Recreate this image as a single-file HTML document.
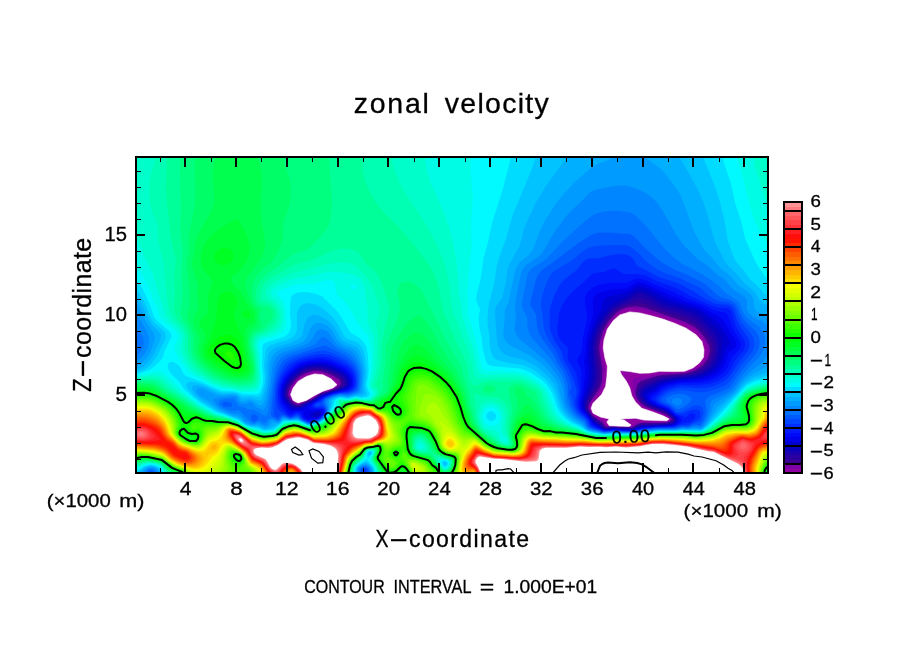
<!DOCTYPE html>
<html lang="en"><head><meta charset="utf-8"><title>zonal velocity</title>
<style>
html,body{margin:0;padding:0;background:#fff;width:904px;height:654px;overflow:hidden}
svg{display:block}
text{font-family:"Liberation Sans","DejaVu Sans",sans-serif;fill:#000;stroke:#000;stroke-width:.3px}
</style></head><body>
<svg width="904" height="654" viewBox="0 0 904 654">
<rect width="904" height="654" fill="#fff"/>
<g id="field"><g fill-rule="evenodd" shape-rendering="geometricPrecision"><rect x="136" y="157" width="632" height="316" fill="#fff"/>
<path fill="#9100a2" d="M138,157 768,157 768,473 136,473 136,157 138,157Z"/>
<path fill="#7d00a8" d="M138,157 768,157 768,473 136,473 136,157 138,157ZM622.4,311 618,313.9 612,319.9 606.9,327 604.3,333 601.9,341 601.1,347 601.7,353 605,369 603.9,381 602.3,387 600,391.4 591.4,403 589.9,407 590,409 592,412.9 594,415.4 603.6,421 605.8,425 608,425.8 612,425.5 620,426.2 626,425.7 630,426.6 632,426.3 638,422.2 640,421.9 658,422 668.2,421 669.7,419 667.8,417 664.6,415 644,407.3 640.6,405 636.8,401 634.6,397 633.4,393 632.6,381 633.2,379 636,377.8 646,376.6 660,373.6 676,373.1 684,372.2 689.2,371 694,369 698,366.5 702,363 705.9,357 706.9,353 707.1,349 705.3,343 701.7,337 695.9,331 692,328.1 680,322.1 648,311.8 640,309.7 630,309.1 626,309.7 622.4,311ZM310.4,373 304.8,375 300,377.8 294.8,383 290.9,389 289.6,393 289.6,395 293,401 296,403.2 298,403.6 300,403.3 305.5,401 314,397 320,392.6 327.8,391 335.5,387 337.5,385 337.9,383 337.1,381 331.9,377 327.9,375 322,373 318,372.3 314,372.3 310.4,373Z"/>
<path fill="#3e0092" d="M138,157 768,157 768,473 136,473 136,157 138,157ZM627.7,307 621.8,309 615.9,313 608,322.1 603,331 599.9,341 599.1,347 599.5,353 602.4,369 601.8,381 600.8,385 598.9,389 589.6,403 588.5,407 588.7,409 592.1,415 594,416.8 602,421.9 604,425 606,426.9 612,426.3 618,427.1 624,426.6 632,427.4 638,423.8 640,423.2 644,422.8 658,423 666,422.4 670,421.4 670.8,421 671.4,419 669.7,417 666,414.4 646,406.7 642.9,405 638.8,401 636.4,397 635.5,393 635.9,389 637.3,385 638.5,383 641.1,381 656,376.2 662,375.1 686,373.2 692,371.6 697.6,369 703,365 707.6,359 709.2,355 709.9,351 709,345 704.4,337 698,329.8 694,326.5 686,322.3 644,307.5 636,306.2 627.7,307ZM312.9,371 306,373 300,376.1 294.7,381 290.3,387 288.6,391 288.1,395 290.2,399 294,403.3 298,404.7 300,404.3 314,397.9 320,393.6 328,391.6 336,388 340.1,385 340.7,383 340,380.6 338,378.6 332,375.1 322,371.5 318,370.8 312.9,371Z"/>
<path fill="#2c00a0" d="M138,157 768,157 768,473 136,473 136,157 138,157ZM634.4,303 628,304.6 622,306.8 617.7,309 614,312.1 608,319.1 602.8,327 600.2,333 597.9,341 597.1,349 599.9,369 600,375 599.4,381 598.3,385 596.4,389 589,401 587.3,407 587.5,409 592,416.2 601,423 604.3,427 606,427.7 614,427.1 620,427.7 626,427.4 632,428.2 638,425.1 642,424 666,423.3 668.5,423 672,421.4 672.6,421 672.8,419 671.1,417 666,413 649.4,407 645.3,405 642.7,403 639.3,399 638.3,397 637.6,393 638.6,389 641.5,385 644,383.2 658,377.6 664,376.5 686,374.4 692.5,373 697.8,371 704,367.1 707.9,363 710.4,359 712.4,353 712.7,347 711.5,343 709.3,339 702,329.9 694,323 684,318.3 660,310.3 646,303.9 640,302.5 634.4,303ZM307.2,371 302,373.3 296,377.8 290,384.9 287.9,389 286.9,393 287.5,397 292,402.9 294.9,405 298,405.6 300,405.2 314,398.8 320,394.5 336.5,389 340.2,387 342.4,385 343.1,383 342.8,381 341.6,379 338,376.2 331.5,373 324,370.5 318,369.4 312,369.7 307.2,371Z"/>
<path fill="#1b00ae" d="M138,157 768,157 768,473 136,473 136,157 138,157ZM635.1,299 618,306.6 614.4,309 612,311.3 606,318.6 600.6,327 598.1,333 595.9,341 595.1,349 597.2,369 597,379 594.8,387 587.3,401 586.1,407 586.4,409 587.5,411 592,417.4 600,423.9 603,427 606,428.4 614,427.6 620,428.2 626,428 632,428.9 638,426 642,425 666,424 672,422.6 674,421 674.1,419 668,413.3 664,411.2 650,406.1 646,403.8 642.8,401 640.2,397 639.6,395 640,391.3 641.3,389 646,385.2 660,379 666,377.9 690,375.1 700,372 705.2,369 709.5,365 713.3,359 715.2,353 715.7,349 715.5,345 714.3,341 712.2,337 705.8,329 696,319.9 690.8,317 680,313.1 662,307.9 650,300.9 644,298.3 640,297.6 635.1,299ZM308.6,369 302,371.6 297.1,375 291.2,381 287.3,387 285.7,393 286.3,397 288.9,401 292,404.4 294,405.8 296,406.4 300,406.2 305.7,403 315.1,399 320.6,395 338.5,389 342.5,387 344.5,385 345.1,383 344,379 340,375.3 334,372.3 326,369.4 320,368.1 314,368 308.6,369Z"/>
<path fill="#0900bc" d="M138,157 768,157 768,473 136,473 136,157 138,157ZM640,293 636,294.1 628.1,299 616,305.3 612,308 606,315.1 599.3,325 596.6,331 594.7,337 593.5,343 593.1,349 594.6,371 594.2,379 592.2,387 585.7,401 584.9,407 586.5,411 592,418.6 601.8,427 605.8,429 614,428.1 620,428.7 626,428.5 632,429.3 642,425.7 668,424.5 673,423 675,421 675.1,419 673.5,417 668,412.3 665.9,411 650.2,405 644.8,401 642.2,397 641.5,395 641.5,393 642.5,391 646,388.1 658,381.9 662,380.4 674,378.2 692,376.2 697.2,375 702.6,373 708,369.9 712,366.2 715.4,361 717.6,355 718.8,345 718.2,341 716.9,337 714.6,333 711.2,329 698,316.3 696,314.8 692,313 678,308.6 664,305.1 660,303.1 650,296.5 644,293.9 640,293ZM310.7,367 304,369 297.4,373 290,380.3 286,387 284.6,393 285.1,397 287.4,401 292,406 294,407 298,407.4 302,406.4 306,403.7 316,399.2 322,395.1 340.6,389 344.6,387 346.4,385 346.9,383 346,378.8 342.6,375 338,372.3 330,368.9 324,367.2 318,366.4 310.7,367Z"/>
<path fill="#0000cf" d="M138,157 768,157 768,473 136,473 136,157 138,157ZM634.6,291 628,295.5 612,303.6 610,305.4 602.9,315 596.7,325 594.1,331 592.4,337 591.3,343 590.9,355 591.8,371 591.4,379 589.6,387 584.1,401 583.6,407 585.3,411 594,422 604,429.1 606,429.5 614,428.6 632,429.7 642,426.5 668,425.1 674,423.3 676.1,421 676.1,419 674.6,417 666,410.1 657.2,407 649,403 646.8,401 644.3,397 643.8,395 644.1,393 646.2,391 652,388.3 660,383.1 664,381.7 678,379 696,377.1 702,375.5 707.7,373 713.2,369 716.6,365 718.7,361 720.6,355 723,343 722.6,339 721.1,335 718.8,331 715.5,327 699.8,313 696.8,311 694,309.9 666,302 662,300.1 652,293.7 644,290.1 640,289.2 638,289.4 634.6,291ZM314.8,365 306,366.6 300,369.3 292,375.8 289.2,379 286,383.9 283.6,391 283.9,397 285.7,401 292,407.6 296,408.4 302,407.6 305.3,405 316,399.8 322,395.8 332,392.1 343,389 346.7,387 348.2,385 348.7,383 348,378.9 346,375.8 342,372.5 334,368.6 328,366.4 322,365.2 314.8,365ZM315.2,413 314,415 316,416.7 318,416.3 319.4,415 320.1,413 318,412.2 315.2,413Z"/>
<path fill="#0000e9" d="M138,157 768,157 768,473 136,473 136,157 138,157ZM635,287 630,290.6 626,292.6 610,296.2 607.8,297 604.9,299 603.4,301 601.5,309 592.8,327 589.9,337 588.9,343 587.9,359 588.8,371 588.3,379 587.3,385 582.5,401 582.3,407 584.1,411 588,415.1 593.5,423 599.2,427 604,429.6 606,429.9 614,429.1 632,430.1 640,427.6 644,426.9 670,425.4 674,424.2 675.8,423 677.4,421 677.4,419 675.8,417 668,410.3 656,405.5 650,402.1 647.3,399 646.7,397 646.8,395 648.5,393 654,390.5 660,385.4 664,383.5 678,380.4 698,378.6 706,376.4 712,373.6 717.5,369 720.4,365 722.2,361 725.9,349 729.7,345 730.4,343 725.5,333 720,324.7 713.5,319 699.3,309 696,307.6 686,305 668,298.6 650,289.2 644,286.7 638,285.9 635,287ZM305.6,365 298,368.6 292,373.6 287.3,379 283.2,387 282.2,393 283.1,399 284,401 288.8,407 292,409.5 302,409.1 304,408.3 307.3,405 318,399.4 322,396.6 332,392.6 345.7,389 348.6,387 349.9,385 350.3,383 350,379.7 347.6,375 342.8,371 334,366.6 326,364 320,363.2 312,363.7 305.6,365ZM316.4,411 311.5,413 309.4,415 310.6,417 316,417.8 318,417.5 322.1,413 320.4,411 316.4,411Z"/>
<path fill="#0009f8" d="M138,157 768,157 768,473 136,473 136,157 138,157ZM635.6,283 628,287.7 626,288.4 610,289.7 600,292.5 595.6,295 593.8,297 593,299 592.6,303 593.4,311 593.3,315 588.9,329 586.3,341 585.9,349 584.1,361 585.4,371 585.2,377 583.2,391 580.8,401 580.5,405 581.6,409 582.7,411 588,416.5 592.1,423 594.2,425 604,430.1 606,430.4 614,429.5 632,430.5 642,427.7 656,426.4 670,426 674,425.1 676,424 679.1,421 679,419 677.2,417 668,409.3 657.2,405 650.7,401 649.3,399 649.2,397 650,395.6 656,391.8 661.2,387 666,384.7 678,381.9 700,380.3 708,378.4 714,375.7 717.9,373 722,368.9 725.3,363 728.6,353 730.3,351 734,348.6 735.5,347 736.3,345 735.5,341 725.1,323 722.2,319 719.5,317 700,306.4 683.6,301 662,291.6 646,283.9 640,282.4 635.6,283ZM306.2,363 300,365.3 296,367.8 290.1,373 286.7,377 284,381.4 281.7,387 281,391 281.2,397 282,400.3 283.4,403 290,411.2 292,411.6 298,410.4 301.4,411 303.7,413 304.8,417 307.7,419 316,418.7 318,418.3 321.8,415 323.3,413 323,411 320,409.7 312,410.1 310,409.7 308.4,409 308,407 312.7,403 324,396.2 332.4,393 344,390.4 348.1,389 350.5,387 351.5,385 351.9,383 351.5,379 349.9,375 346,370.9 342,368.3 332,363.7 326,362 320,361.4 312,362 306.2,363Z"/>
<path fill="#001afc" d="M138,157 768,157 768,473 136,473 136,157 138,157ZM635.5,279 626,283 610,282.8 598,285.3 594,287 590,289.8 587,293 585,297 585,301 587.1,315 587,319 582.7,339 582,350 580,354.8 577.3,359 577.1,361 580.1,367 581.3,373 581.1,391 579,401 578.9,405 580.1,409 581.2,411 588,417.9 592,424.6 595.8,427 604,430.5 606,430.8 614,430 632,430.9 644,428 656,426.9 672,426.3 676.3,425 679.7,423 681.7,421 681.4,419 679.3,417 674,413.7 668,408.3 659.5,405 653.3,401 651.6,399 652.2,397 656,394.3 662,388.9 665.4,387 670,385.5 680,383.2 694,383.1 702,382.4 710,380.6 716,378.1 720.7,375 726,369.8 728,366.7 732,356.8 738,350.7 740.5,347 740.9,345 739.9,341 733.1,329 728,316 726,313 718,311.3 712,309.4 700,303.6 687.2,299 674,291.9 658,286 646,280.2 640,278.7 635.5,279ZM306.5,361 300.4,363 296,365.4 290,370.4 286,374.9 283.4,379 280.8,385 279.6,391 279.7,397 280.4,401 282,404.4 288,412.6 290,414.3 296,412 298,411.7 300,412.3 300.9,413 304,418.3 308,420.3 310,420.5 318.1,419 320.7,417 324.2,413 324,410.5 322,408.9 314,408.6 312,407.3 312.1,405 313.9,403 320,399.8 324,396.8 332,393.7 346,390.9 350,389.2 352.2,387 353.1,385 353.4,381 351.9,375 348,369.9 344,367.1 334,362.2 328,360.2 322,359.3 316,359.6 306.5,361Z"/>
<path fill="#002eff" d="M138,157 768,157 768,473 136,473 136,157 138,157ZM611.1,269 604,272.1 594,273.3 592,274.2 584.9,281 576,288.4 568,296.4 562,305.2 559.1,313 557.3,327 557.5,333 558.6,337 560,339.6 567.1,347 567.9,349 567.6,357 568.4,361 575.1,371 576.6,375 578,382.1 579,391 577,401 577.1,405 578.4,409 581.2,413 588,419.3 590.8,425 593.6,427 604,431 614,430.4 632,431.2 644,428.6 656,427.3 666,427.3 674,426.6 682,423.6 690,421.9 693.9,419 695.4,417 695.4,415 694,413.8 692,413.2 690,413.5 686,417.2 678,415 674.4,413 670.7,409 668,407.2 658.1,403 656.2,401 655.2,399 656.2,397 662,391.6 668,388.2 680,385 698,385.3 710,383.7 716,381.6 720,379.5 724,376.7 728,372.8 730.9,369 736.1,359 744,349.6 745.4,345 744.6,341 738.4,331 735.4,325 730.9,311 730,309.6 728,308.2 718,307.6 710,305.1 692,297 676,287.7 658,281.8 646,275.8 638,274 626,274.2 622,273 616,269.3 614,268.6 611.1,269ZM319,357 304,359.5 295.6,363 288,369.2 284,374.3 281.4,379 279.2,385 278.4,389 278.1,397 278.5,401 280.9,407 288,414.9 290,416 292,415.6 296,413.4 298,413.2 300,414.2 303.2,419 308,421.3 310,421.4 314,420 318,419.5 320,418.3 324,414.2 324.8,413 325,411 324,408.9 322,407.7 316,407.8 313.9,407 313.4,405 315.2,403 320,400.8 326,396.5 334,393.6 348,391.3 352,389.2 353.9,387 354.6,385 354.8,381 354,375.8 351.8,371 348,367.1 340,362.4 332,358.9 326,357.3 319,357Z"/>
<path fill="#0045ff" d="M138,157 768,157 768,473 136,473 136,157 138,157ZM611.4,255 598,258.2 588,258.5 584,260.9 576,270.8 564.9,279 560,284.4 554.4,295 550.3,307 549.8,311 549.6,325 550.4,331 554.6,341 561.2,351 564.1,361 568.9,369 574,380.8 576.7,391 576.7,393 574.8,401 575.2,405 576.5,409 579.3,413 586.5,419 588,421 590,425.9 592,427.2 604,431.4 614,430.8 632,431.5 642,429.4 656,427.8 674,427.3 680,425.5 688,424.7 690,424 698,419.6 700,417.4 700.5,413 699.7,411 698,409.8 694,409.4 690,410.3 684,413.4 680,413.8 676,413.1 670,407.2 660,402.5 658.7,401 658.4,399 659.5,397 666,391.6 676,388.1 682,387.3 698,388.3 706,387.8 716,385.3 724,381.3 728,377.7 731.8,373 739.7,361 747.9,351 749.9,345 749.4,341 748.7,339 740,326.3 736.5,319 733.2,309 730,305.8 726,304.8 718,304.2 713.7,303 705.3,299 694,291.7 680,284 674,281.7 660,277.5 656,275.7 646,270.1 638,266.4 636.6,265 633.2,259 631.3,257 628,255 622,254 611.4,255ZM314.2,355 304,357.2 298,359.2 292,362.2 288.3,365 284,370 280.1,377 278,383 276.8,389 276.3,397 276.8,403 278,408.3 280,411 290,417.2 292,416.7 296,414.7 298,414.5 300,416 302,419 308,421.9 310,422 320,419 324,415.1 325.4,413 325.8,411 324,407.5 322,406.3 316,406.6 314.8,405 316,403.6 320,402.2 326,397 332,394.8 340,393 348,392.3 351.5,391 354.1,389 355.4,387 356.2,383 355.9,377 354,371 351.2,367 346,362.8 336,357.6 328,354.8 322,354 314.2,355ZM363.6,469 363.1,471 364,472.4 366,471.6 366,470.2 364.9,469 363.6,469Z"/>
<path fill="#005bff" d="M138,157 768,157 768,473 367.5,473 367.9,471 367.1,469 366,468 364,467.7 361.8,469 361.4,471 362,473 136,473 136,157 138,157ZM609.8,245 594,246.3 588,247.9 584,250.3 572,260.3 554.1,271 550.5,275 548,279.5 544,289.9 541.5,299 540.8,307 542.7,315 543.5,325 544.7,331 546.3,335 550.8,343 557.4,353 560.4,361 566.3,371 569.6,379 571.5,387 571.4,389 570,390.8 569.8,393 571.2,395 573,405 574.5,409 578,413.8 586,420.2 588,425 589.4,427 594.3,429 604,431.8 614,431.2 632,431.9 642,429.8 656,428.3 674,427.9 682,426 688,426.1 690,425.5 694,423.3 700,421.8 702.2,419 703.6,413 703,409 702,407.2 700,405.7 698,405.2 694,405.5 682.4,411 678,411.9 676,411.3 670,405.6 664.5,403 661.9,401 661.8,399 663.1,397 666,394.6 670,392.6 676,390.9 682,390.2 698,392.2 704,392.3 716,389.3 726,385 730,380.9 743,363 749.8,355 752.6,351 754.1,347 754.6,343 753.2,337 750.5,333 742,322.9 738.9,317 735.9,309 734,305.9 732,304.1 728,302.4 718.9,301 714,299 708,295 702,289.5 698,286.7 680,278.2 665,273 658,270 648.1,263 636,250.9 630,246.5 624,245.1 609.8,245ZM318.3,351 302,355.2 292,358.8 286,362.7 282.6,367 278,376.6 275.4,387 274,413 274.1,415 275.9,417 278,417.8 280,415.6 282,414.5 284,414.9 290,417.7 292,417.5 296,415.8 298,415.8 302,419.6 308,422.6 310,422.7 314,421.1 318,420.4 320.6,419 326,413 326.4,411 326,408.8 324,405.9 322.7,405 321.9,403 324.4,399 327.8,397 334,394.7 340,393.5 346,393.5 350,392.7 353.7,391 355.9,389 356.8,387 357.5,383 357.1,375 355.2,369 352,364.5 346,359.5 332,352.7 324,350.6 318.3,351Z"/>
<path fill="#0072ff" d="M138,157 768,157 768,473 369.2,473 368.5,469 366,466.9 364,466.7 362,467.6 360.6,469 360.2,471 360.7,473 154.5,473 152,470.4 150,470.5 147.7,473 136,473 136,157 138,157ZM597.1,233 592,234.6 580,241.9 541.1,271 538,275 536.1,279 530.6,301 530.5,305 531.2,307 534,311 535.9,315 537.2,327 538.9,333 542.2,339 554,355.3 557.7,363 562.8,371 565.5,377 567.8,385 568,395.3 570.5,405 572.3,409 576.9,415 585,421 588,427.1 591.7,429 604,432.2 614,431.6 632,432.2 644,430 656,428.7 674,428.5 682,426.9 688,427.2 694,424.8 700,424.9 702,423.1 703.3,421 705.7,415 706.3,409 705.2,401 706.1,399 710,396 724,390.5 730,387 736.7,377 747.9,363 754,356.4 757.5,351 759.1,347 759.7,343 759.4,339 758,334.7 755.5,331 748,324.3 744,319.8 741.1,315 737.8,307 736.6,305 734,302.3 730,300 720,296.8 717.3,295 706.4,285 702,282.1 686,274.3 673.4,269 662.5,263 655,257 642.1,245 636,238.2 632,235 628,233.7 622,233.7 612,232.8 602,232.4 597.1,233ZM318.6,347 288.6,357 284,359.9 281.3,363 279,367 276.7,373 273.9,385 270.9,413 271,415 272.5,417 278,419.7 279.4,419 282,416 284,416 290,418.3 296,416.9 298,417 302,420.2 308,423.1 310,423.2 314,421.6 318,420.9 321.3,419 326.4,413 326.8,409 324,403 324.3,401 325.5,399 335.1,395 340,394.1 346,394.3 350,393.7 355.8,391 357.5,389 358.2,387 358.9,381 358.4,373 356,366.3 352,360.8 346,356 328,346.8 324,345.8 318.6,347ZM222,403 222.1,405 224,406.4 226,407.1 230.9,407 232.2,405 231.2,403 228,401.9 224,401.8 222,403ZM251.8,415 250.8,417 252,421 254,421.8 256,421 257.8,419 258.2,417 256,414.9 254,414.5 251.8,415ZM674,394.6 680,393.7 684,394.3 690.3,397 691.8,399 690.7,401 686.7,405 682,408.1 678,409.2 676,408.5 666.1,401 666.1,399 668,397 674,394.6Z"/>
<path fill="#0087ff" d="M138,157 768,157 768,473 370.5,473 369.6,469 368,467 366,465.9 364,465.8 361.3,467 359.6,469 359.6,473 156.5,473 155.3,471 152,468.9 150,468.9 148,470 145.5,473 136,473 136,355.6 138,354.4 141,351 142.9,347 143.7,343 143.2,339 142,336 140,333.1 136,329.9 136,157 138,157ZM606.9,211 598,212.8 592,215.4 582,223.7 562,241.9 548,257.3 543.4,261 532,268.6 529.4,271 528.2,273 527,277 521.9,303 522.8,309 527.2,317 527.4,327 528.9,333 532.7,339 550,357.8 560.1,373 563,379 564.9,385 567.3,403 571.2,411 576,416.4 584,422 586.8,427 589.3,429 604,432.6 614,432 632,432.5 644,430.5 656,429.2 676,428.9 682,427.6 688,428 696,426.1 700,427 702.7,425 706.2,419 708.6,413 710,403 711.4,401 714.1,399 728,392.2 732,389.5 742,375.5 750,366.5 759.5,357 762.9,351 765,345 765.2,339 763.5,333 759.3,327 750,320.3 746,316.5 743.6,313 740,303.6 738,301 725.8,293 717.9,285 710,278.9 694,269.7 682,263.7 673.1,257 664.8,249 646,226.1 636,215.9 632,213.3 628,212.1 614,210.7 606.9,211ZM319.8,339 316.4,343 313.1,345 304,348.8 286,354.6 281.9,357 278.4,361 276,365.9 274.5,371 268,411.8 266,415.6 264,415.6 258,411.9 254,410.1 248,409.2 244,407.3 240,406.5 238,405.2 234,398.9 226,399.1 222,399.7 219.4,401 218.7,403 219.3,405 222,407.6 230,410.8 234,411.2 238,410.3 240,411.1 246,417.5 252.4,423 254,423.2 258,421.2 260,421.1 264,423.3 265.4,423 268,419.3 270,418.2 272,418.4 278,421 280,419.9 282,417.2 284,417 290,418.9 296,417.7 298,417.8 302.3,421 308,423.5 310,423.6 314,422 320,420.4 324,416.8 326.9,413 327.6,409 325.6,403 325.6,401 327,399 332,396.7 337.6,395 340,394.6 348,395 356,392.4 357.9,391 359,389 360.3,377 359.7,371 358,365.8 356,361.9 352,356.6 348,353.5 335.8,347 326,338.1 324,337.1 322,337.1 319.8,339ZM674,398.4 678,397.9 681.2,399 682.2,401 681.8,403 680,405.1 678,405.8 676,405.5 672.7,403 671.8,401 672.8,399 674,398.4Z"/>
<path fill="#009bff" d="M138,157 768,157 768,326.2 762,321.2 753.6,317 748.8,313 746.9,309 747.2,301 746.5,299 744.9,297 734,290.3 730.8,287 726,280.4 716,273.8 708,266 697.6,259 683.5,245 676.4,235 662,209.6 658,203.9 653.7,199 646,193.1 638,189.2 628,185.9 620,185.3 614,185.9 596,189.5 592,190.9 590,192.3 583.9,199 572,209.9 566,216.5 554,232.4 542.4,253 538.1,257 526.4,265 524,267.4 521.8,271 520.6,275 515.5,301 515.2,307 515.9,317 514.6,329 516,334.6 519.3,339 544,358.9 550,365.4 556,373.5 560,380.3 561.9,385 563.8,393 564,399 565.5,405 568.8,411 571.9,415 576,418.5 583,423 587.7,429 594.2,431 604,433 614,432.4 632,432.8 658,429.5 676,429.4 682,428.2 688,428.7 694,427.4 700,428.1 702,427.4 705.7,423 710.2,415 714,404.2 733.9,391 740,382.2 744,377.7 752,370.2 761.8,363 768,355 768,473 371.7,473 370.7,469 369.2,467 366,465 364,465 360.1,467 358.7,469 358.6,473 158.2,473 157.1,471 154.9,469 152,467.9 150,467.9 147.2,469 143.5,473 136,473 136,361.2 140,359.1 145.3,353 148,347 148.9,341 148.7,337 147.4,333 142,322.6 136,315.2 136,157 138,157ZM317,331 315.3,333 312.2,339 308,343 302,346.1 282,352.7 278.5,355 276,357.8 274,361.5 272.3,367 270.1,385 267.8,399 266,405.8 264,409.2 262,409.5 258,408.1 256,406.9 252,402.8 250,402.1 246,403.9 242,403.8 240,403.1 237.9,401 236.2,397 234,396.5 220,397.7 214,398.8 214.1,401 216.5,405 218.3,407 221.3,409 230,412.7 234,413.7 238,414 240,414.8 245.6,421 252,424 254,424.2 258,422.6 264,425.5 266,425.5 268,424.3 270.1,421 272,420.1 278,422 280,421 282,418.2 284,417.8 290,419.4 296,418.5 298,418.7 305.8,423 308,423.9 310,424 314,422.4 319.8,421 322,419.5 326.1,415 328.1,411 328.3,407 327.2,403 327.2,401 328.9,399 334,396.6 340,395.2 348,395.9 350,395.5 357.7,393 359.9,391 361.5,381 361.7,373 360.5,367 358.2,361 356,356.9 352.8,353 350,350.9 342,347.2 338,344.7 334.4,341 328.9,333 326,330.5 322,329.3 320,329.4 317,331ZM201.1,393 202,393.6 203.6,393 202,392 201.1,393Z"/>
<path fill="#00afff" d="M138,157 612.4,157 608,160.2 598,163.8 592,167.2 574,182.8 564,193.6 554.9,205 544,222.3 539.8,231 534.9,245 532.1,251 528.9,255 522,260.3 517.9,265 515.9,269 514.6,273 508.8,301 504.6,311 504.7,319 503.2,333 503.7,337 504.5,339 508,343.4 512.7,347 528,354.4 538,361 544,366 550,372.3 555.1,379 558.4,385 559.7,393 564,407 567.8,413 571.4,417 582,423.9 586.5,429 588,429.8 592,431.1 604,433.4 614,432.7 632,433.1 658,429.9 674,429.9 682,428.9 688,429.3 694,428.4 700,429.1 702,428.5 703.9,427 708.6,421 717.2,407 734.4,393 744,381.1 748,377.5 754,373.4 768,366.3 768,473 372.8,473 371.8,469 370.4,467 368,464.8 366,464 362,464.9 359,467 357.8,469 357.7,473 159.7,473 158.7,471 156.8,469 154,467.5 150,466.9 145.2,469 141.4,473 136,473 136,365.7 139,365 142,363 148.7,355 152.5,347 155.1,337 153.8,333 148,325 142.5,315 139.3,307 138,305.1 136,303.4 136,157 138,157ZM317.4,323 314,324.3 312,326.2 310,329.6 306.9,337 303.8,341 298,343.9 280,349.6 276,351.9 273.1,355 271.1,359 269.5,365 268.5,383 266,395.8 264,402.3 262,404.9 260,405.3 258,404.6 253.4,401 250,399.9 244,401.2 241,401 240,400.6 238.1,397 236,395.5 232,395.1 222,395.8 216,394.8 202,388.3 200,388.1 197.1,389 196.4,391 197,393 200,396.2 210,402 218.3,409 232,414.9 238,416.5 240,417.5 245.7,423 251.5,425 254,425.1 258,424.2 263.3,427 266,427.4 268.1,427 270,425.8 272,422.7 274,422.4 276,423.2 278,423.1 280,422 282,419.3 284,418.6 290,419.9 296,419.2 298,419.4 308,424.3 310,424.4 320.6,421 324,418 327.8,413 329.2,409 329,401 330.9,399 334.9,397 338,396.1 342,395.9 348,396.7 361,393 362,391 363.3,373 362.4,367 360,359 358,354.4 355.7,351 352,348.2 344,344.9 340,342.4 336.9,339 332,330.2 328,326.2 322,323.3 317.4,323ZM636,157 638.4,157 634.4,157 636,157ZM646,157 768,157 768,315.3 758,312.1 756,310.9 754.8,309 753.4,299 751.2,295 748,291.9 738.1,285 730,275.5 720,267.9 712,257.8 705.2,251 701.3,245 693.8,231 684.4,205 680,194.5 677,189 662.9,171 658,166.7 644.7,157 646,157Z"/>
<path fill="#00c3ff" d="M138,157 566.3,157 562.9,163 546,186 536,202.3 524.6,227 521.1,241 519,247 508.9,265 507.3,271 506,282.3 502.4,297 501.5,299 496,306.5 494.8,311 496.8,339 498,345 500,349.7 502.9,353 506.2,355 511.7,357 522,359.2 526,360.7 534,364.9 540,369 548,376.2 554,384.1 556.3,389 561.7,407 565.4,413 568.9,417 573.9,421 582,425.5 585.4,429 588,430.4 592,431.6 604,433.7 614,433.1 634,433.3 658,430.3 674,430.4 682,429.4 688,429.7 694,429.2 700,429.7 702,429.3 706.9,425 719.4,409 736,393.4 742,385.9 746,381.9 754,377 768,371.7 768,473 373.7,473 372.8,469 371.6,467 368,463.7 366,463 362,464 358,467 356.9,469 356.9,473 161,473 160,470.8 158,468.6 154,466.6 150,466.1 146.6,467 144,468.5 139.2,473 136,473 136,369.1 140,368.3 142.7,367 146,364.2 150,359.5 154.2,353 160,340.3 161,337 160.9,335 160,333 152,324.8 149.3,321 141.1,303 138,299.1 136,297.5 136,157 138,157ZM313.1,315 310,316.1 307,319 305.1,323 302.1,335 300.9,337 298.9,339 290.3,343 276,347.2 272.8,349 270,352 268,357.1 266.5,365 266.9,379 265.9,387 263,397 262,398.9 260,401.1 250,398 242,398.7 237.7,395 234,393.8 224,394.2 220,393.8 216,392.5 204,386.8 198,385.3 194,385.5 191.9,387 192.1,389 194.2,393 200,398.7 208,403.4 218,410.4 234,417 238,417.9 240,419.1 244,423 248.3,425 252,425.9 258,425.8 264,428.8 266,428.9 272,427.3 274,425.7 280,423 282,420.5 284,419.5 290,420.3 296,419.7 298,420 308,424.7 310,424.8 314,423.2 320,421.7 324,418.6 328.3,413 330.4,407 330.8,401 332.7,399 337,397 340,396.4 348,397.4 356,395.5 362.4,395 364.2,393 363.6,387 364.9,371 362.7,359 359.9,351 358,348.2 356,346.4 346,342.4 342,339.9 339.6,337 334,326.5 328,320.5 320,315.9 316,314.9 313.1,315ZM369.3,453 370,453.7 370.5,453 370,452.6 369.3,453ZM680,157 768,157 768,305.7 762,302.9 760,300.8 756.9,295 754,291.1 744.4,283 736,273.3 727.5,265 724.6,261 714.5,241 705.1,207 702,199 697.4,189 688.8,173 680.4,159 679.5,157 680,157Z"/>
<path fill="#00dcff" d="M138,157 535.9,157 531.8,169 512.7,215 505.9,239 499.3,257 497,265 493.9,285 488.7,305 487.5,317 487.6,325 489.5,337 489.9,347 491.3,353 493.4,357 496,359.4 500,361.1 509.3,363 520,364.4 524,365.5 530,368.1 536,371.5 546,379.4 550.6,385 554.1,391 560.3,409 562.9,413 568,418.5 572,421.6 580,425.6 584.3,429 588,431 596,433 604,434.1 614,433.5 634,433.6 658,430.8 676,430.8 682,429.9 700,430.3 702,429.9 703.9,429 708.2,425 746,384.2 754,379.7 768,375.6 768,473 374.6,473 373.7,469 372.6,467 368,462.3 366,461.6 362,463.2 357.1,467 356.1,469 356,473 162.2,473 160.1,469 158,467.3 154,465.8 150,465.2 144.3,467 136.6,473 136,473 136,371.7 140.3,371 145,369 148,367 152,363 157.5,355 164.5,341 165.8,337 165,333 163.6,331 154.5,323 152,319.9 149.5,315 145,303 140,294.5 136,289.9 136,157 138,157ZM301.7,305 298.4,309 296.9,313 297.2,327 296.6,331 294.7,335 292.8,337 288,339.8 276,343.3 270,345.6 267.8,347 266.4,349 265.4,353 264,365 265,377 264.8,383 262.1,393 260,396.2 258,397 250,396 244,396.3 242,395.9 238,393.8 234,392.6 222,392.5 216,390.4 202,384 192,381.7 190,381.8 187.2,383 186.4,385 186.8,387 188.1,389 193.2,395 198,399.3 216.2,411 238,419.1 246.3,425 252,426.7 258,427.3 264,429.9 272.4,429 280,423.9 282,421.7 284,420.4 298,420.6 307.7,425 310,425.2 314,423.5 320,422.1 324,419.2 328.8,413 331.6,407 332.6,401 334.6,399 340,397 348,398.2 356,396.3 362.3,397 366,395.5 366.7,395 367.1,393 365.6,389 365.2,385 366.6,375 366.7,369 364.3,353 361.8,347 357.9,343 354,341.1 348,339.2 344.9,337 343.4,335 339.5,327 334,319 328,312.7 322,308.1 316,304.8 310,303.2 306,303.3 301.7,305ZM367.8,453 368,455.3 370,455.4 371.8,453 370,451.4 367.8,453ZM442.7,463 444,465.5 446,465.6 446.5,465 446.9,463 446,462.1 444,461.6 442.7,463ZM704,157 768,157 768,296.4 764,293.6 758.6,287 749.7,279 744,270.9 736,261.6 734,258.3 727.9,241 724.2,219 718.5,197 714.4,185 703.8,159 703.3,157 704,157Z"/>
<path fill="#00faff" d="M138,157 511.1,157 502.3,191 492.1,223 487.9,243 483.8,257 480.7,279 476.1,297 476.3,301 479.9,309 480,311 478.9,315 478.6,319 479.4,327 481.7,339 482.8,349 485.9,361 488,364.5 492,366 520,368.6 526,370.5 532,373.4 542,380.2 546.9,385 552,393 557,407 559,411 561.9,415 565.9,419 571.5,423 580,426.9 588,431.6 593.3,433 604,434.5 612,433.9 634,433.9 658,431.2 676,431.2 682,430.4 700,430.9 702,430.5 707.4,427 718,417 746,386.2 750,383.7 756,381.2 768,378.4 768,473 375.5,473 373.6,467 368.4,461 368,459.3 366,459.6 358.2,465 356.2,467 355.4,469 355.3,473 163.3,473 161.2,469 159.3,467 154,465 150,464.5 144,466.1 136,471.2 136,373.9 142,372.7 151,369 153.9,367 160.1,361 163,357 164.5,351 171.4,337 171.4,335 169,331 157.2,321 154.2,317 150.1,305 142.7,289 140,284.4 136,280.4 136,157 138,157ZM296,293 292.8,295 291.3,297 290.7,299 289.9,313 291.1,325 290.5,329 288.7,333 286.8,335 283.3,337 266,342.4 264,343.4 262.8,345 262.1,349 262.4,357 261.9,365 263.1,375 263.1,381 262.1,387 260.6,391 260,392.3 258,393.9 256,394.3 244,394.1 234,391.3 224,391.1 220,390.1 212,386.8 202,381.9 186,375.9 184,374.4 180,367.1 178.2,365 174,362.2 172,361.7 170,362.1 168.8,363 167.9,365 167.8,367 169.2,371 172,374.7 178.8,381 183.9,389 195.1,399 200.4,403 216,412.2 224,414.6 234,418.9 238,419.9 245,425 250,427.1 258,428.4 264,431 272,430.2 274,429.5 284,421.3 298,421.1 308,425.5 310,425.6 314,423.9 320,422.5 324,419.7 329.3,413 332.9,407 334.4,401 336.4,399 340,397.7 348,398.9 356,397.1 362,398 368.3,397 369.8,395 369.9,393 367.7,389 366.8,385 368.8,371 367.8,355 366.4,347 364,342.4 360,338.2 352,333.6 350,331.9 341.2,317 337,311 322,296.3 316,293.9 308,292.3 302,292.1 296,293ZM487.6,413 486.5,415 486.3,417 488,419.8 490,420.8 492,420.9 494,420.3 495.3,419 496.1,417 495.9,415 494,412.3 492,411.2 490,411.2 487.6,413ZM369,451 367.1,453 366.9,455 368,458.8 372.6,453 371.6,451 369,451ZM442.2,461 441.6,463 442.5,465 444,466.7 446,466.9 447.8,465 448,462.8 446,460.9 444,460.6 442.2,461ZM724,157 768,157 768,279.3 764,274.9 756,263.1 745.2,239 741.6,223 735.1,203 730.8,183 724,163 722.7,157 724,157Z"/>
<path fill="#00fce5" d="M138,157 470.6,157 471.1,177 472.9,199 471,223 471.6,247 469.6,263 467.3,293 468.2,307 468,313 468.8,317 475.9,341 481.1,365 483,369 486,371 488,371.3 500,370.7 518,371.7 524,373.3 530,375.8 540,382.2 545.1,387 548.9,393 556.2,411 558.9,415 563,419 568.6,423 580,427.9 588,432.3 598,434.3 604,434.8 612,434.3 634,434.2 660,431.4 676,431.5 682,430.8 700,431.4 702.3,431 708.6,427 720.3,417 728,408.5 737.2,397 746,387.9 750,385.6 756,383.2 768,380.4 768,473 376.4,473 374.5,467 370,461 369.9,459 373.2,453 372.8,451 370,450.4 367.8,451 366.4,453 364.8,459 357.2,465 355.4,467 354.7,469 354.6,473 164.4,473 162,468.5 160,466.5 156,464.8 150,463.8 144,465 136,469.4 136,375.7 141,375 156,371.2 160,371.1 162,371.8 174,382.3 182,390.5 200.9,405 215.3,413 226,416 232.7,419 238,420.7 243.9,425 248,426.9 258,429.3 264,431.7 272,431.1 274,430.6 284,422.2 286,421.8 296,421.3 298,421.6 308,425.8 310,425.9 314,424.2 320,422.9 324,420.3 336.1,405 336.1,401 338,399.1 342,398.5 348,399.4 356,397.7 362,398.9 368,398.6 370.7,397 372.7,393 369.8,389 368.5,385 370.7,373 371.1,365 370.6,349 368,336.6 366,333 358.8,325 351.1,311 346,303 337.6,295 335.7,291 335.2,285 334.6,283 332.6,281 330,280.1 326,280.4 314,283.6 300,284.2 294,285 280,290.5 278,292.1 277.5,293 278,295 283,301 285.3,307 286.4,319 286.1,325 284.7,329 281.1,333 274,336.6 262,339.9 260.5,341 259.4,343 259.1,347 260.4,357 260.3,365 261.5,379 260,387 257.3,391 254,391.9 242,392.1 234,389.9 222,388.8 210,383.9 192.7,375 188,371.7 179.1,359 175,351 174.7,347 178,338 178,334.8 175.3,331 165.4,323 159.9,317 157,307 152,297 146,281.4 140.8,273 136,268.5 136,157 138,157ZM351.4,285 350.6,287 351.4,289 354,289.5 356,287 355.1,285 354,284.4 351.4,285ZM486.4,409 484,412.1 483,415 482.8,417 484,421 486,423.7 488,425.1 492,425.9 496,425.3 498,423.5 499.8,419 500,416.6 499,413 496,409.2 492,407.2 490,407.2 486.4,409ZM440.5,461 440.7,463 441.6,465 444,467.7 446,467.8 448,466.2 449,463 447.7,461 444,459.8 442,460 440.5,461ZM738,157 768,157 768,243.7 764,239.7 760.9,235 753.1,217 748.5,201 743.3,179 738.2,161 737.4,157 738,157Z"/>
<path fill="#00fecb" d="M138,157 424.9,157 426.7,169 429.7,181 441.7,207 448.3,225 451.3,235 456.4,261 459.2,295 461.6,309 462.1,315 467.3,333 472.6,347 477.7,369 479.9,373 482,374.2 486,375 500,374.2 516,374.6 522,375.8 528,378 539.6,385 543.6,389 546.8,395 553.3,411 555.7,415 559.7,419 565.6,423 569.5,425 578,428.1 588,433 604,435.2 634,434.6 660,431.8 676,431.9 682,431.3 700,431.8 703.6,431 709.9,427 724.5,415 730,408.7 738.5,397 746,389.5 750,387.2 758,384.3 768,382 768,473 377.3,473 375.3,467 371.1,461 370.9,459 373.8,453 373.8,451 372,450.1 370,450 367.1,451 365.8,453 364.7,457 363.4,459 356.2,465 354.6,467 354,469 353.8,473 165.5,473 162,467.1 160,465.6 154,463.6 150,463 144,464 136,467.9 136,377.4 152,374.9 156,374.9 160,375.9 164,378.3 179.3,391 198,404.7 201.8,407 216,414.2 226,416.8 238,421.3 243.1,425 248,427.4 256,429.5 264,432.4 274,431.4 282,424.6 284,423.1 286,422.5 296,421.7 298,422.1 308,426.2 310,426.3 316,424 320,423.4 324,420.9 332,411.1 338,405.2 337.5,401 340,399.3 348,399.9 356,398.3 362,399.4 370,399.2 374,395 374.9,393 374.3,391 372,389 370.7,387 370.3,385 370.9,381 373.1,373 373.9,367 374.1,355 373.6,339 372.5,333 368.8,325 367.6,321 367.6,309 364.5,287 361.7,281 360,278.8 356,275.8 350,273.7 340,272.3 334,271.7 328,271.9 310,276 296,278.3 290,280.2 276,285.9 272,289 270.7,293 271.1,295 272.4,297 278.8,303 282,309 282.9,315 282.7,321 280.6,327 276.9,331 270,334.7 260,337.9 257.3,341 256.6,345 258.6,357 259.9,377 258.5,385 256,388.6 254,389.4 242,390.4 232,388.1 222,386.7 214,383.7 208.6,381 196,373.6 190.3,369 184.8,361 181.2,353 180.5,347 182,337 181.1,333 178.1,329 169.1,321 165,315 162,303.5 152.4,273 144.5,257 140,246 138,242.2 136,239.7 136,157 138,157ZM486.2,405 484,406.6 482.2,409 480.7,413 480.4,417 482.1,423 484,426.4 486,428.1 496,431 499,433 500.6,439 501.7,441 504,442.6 506.1,443 507.3,441 506.5,439 501.8,433 501.2,431 503,417 501.6,411 498.4,407 494,404.5 490,403.9 486.2,405ZM417.8,445 417.4,447 419,449 422.3,449 423.6,447 422,444.2 420,443.3 417.8,445ZM441.3,459 440,459.5 439.2,461 442,466.7 444,468.5 446,468.7 448,467.5 449.6,465 449.9,463 448.9,461 446,459.5 441.3,459ZM756,157 768,157 768,204.1 765.2,199 755.2,167 754.1,157 756,157Z"/>
<path fill="#00ffb2" d="M156,157 391.2,157 393.9,169 399.6,183 406.3,195 420,215 430,231.4 435.9,243 443.4,261 445.9,269 449.6,287 451.8,307 453,313 458,323.3 462.2,337 467.7,349 472.3,365 473.9,375 476,377.8 480,378.8 498,377.7 516,377.6 522,378.7 526,380.1 536,385.5 540.6,389 543,393 547.4,405 551.2,413 553.9,417 558.7,421 566.3,425 580,429.8 588,433.4 596.8,435 604,435.5 634,434.9 660,432.1 676,432.2 682,431.7 700,432.2 704,431.3 711.2,427 726.8,415 730.4,411 739.7,397 746,390.8 748,389.6 756,386.5 768,383.4 768,473 378.2,473 376.1,467 372.1,461 371.8,459 374.4,453 374.6,451 372,449.7 370,449.6 366.4,451 364,456.7 362.3,459 355.3,465 353.9,467 353.4,469 353.1,473 166.8,473 162,466.1 160,464.7 154,463 150,462.4 146,462.7 142,463.8 136,466.5 136,378.9 150,377.3 154,377.5 158,378.6 162,380.8 169.5,387 196,405 206.8,411 215.6,415 226,417.5 238,421.9 244,426 248,427.9 264,433 274,431.9 284,423.8 286,423.1 296,422.2 308,426.5 310,426.7 316,424.3 320,423.8 324,421.5 332,412 338.1,407 339,405 339,401 340,400.3 348,400.4 356,398.8 362,399.9 370,400 371.8,399 375.7,395 376.7,393 376.6,391 372.9,387 372.3,385 375.9,373 377.2,365 378,335 376.3,323 377.2,319 379.5,313 379.4,307 373.5,289 370.5,283 365.1,275 356,265.9 352,263.8 346,262.7 338,262.5 328,263.8 294,272.4 274,281.8 270,284.5 267.8,287 265.9,291 265.6,293 266,295.8 268.3,299 274,303.1 277.6,307 279.7,313 279.7,319 277.4,325 274,328.8 268,332.6 258,336.6 256,338.7 255,341 254.7,345 256.9,357 258.3,375 258,379 256.9,383 255.9,385 254,386.7 244,388.3 240,388.4 222,384.6 214,381.6 209,379 199.7,373 192.7,367 188.5,361 185.2,353 184.4,347 184.9,337 184,332.7 181.9,329 174.3,321 171.4,317 169.5,313 168.5,309 165.1,281 163.6,263 158.3,241 157.3,225 156.2,221 151.8,211 149.5,199 149.2,189 149.8,181 150.9,175 154.4,163 154.6,157 156,157ZM486.3,401 484,401.7 482,403.1 479.5,407 478.4,411 478,415 478.5,419 481.8,427 484,429.7 494,434.4 499.2,441 501.8,443 506,444.2 508,443.9 509.1,443 509,441 505.4,431 504.9,425 505.8,415 504.2,409 501.2,405 496,401.7 492,400.7 486.3,401ZM417.7,441 415.9,445 415.7,447 416.6,449 420,450.6 422,450.7 424,450.4 426,449.3 426.2,447 424,442.9 422,441.1 420,440.3 417.7,441ZM437.9,459 438,461 439,463 442,467.6 444,469.3 446,469.5 448,468.4 449.3,467 450.3,465 450.6,463 450,461 448,459.6 442,458.1 440,458.1 437.9,459Z"/>
<path fill="#00ff98" d="M168,157 361.6,157 363.1,173 364.4,179 369.2,191 374.7,201 382.2,211 398.5,227 416,247.5 430,266.6 433.7,273 439.2,289 441.1,303 443.1,311 454,337 464,357.7 467.2,367 469.1,379 472,384.2 474,385.4 476,385.5 484,382.2 490,381.3 506,381.6 516,380.7 520,381 524,382.3 536,388.4 539.1,391 540.2,393 543.1,403 547.8,413 550.4,417 554.8,421 562.4,425 578,429.8 588,433.9 596,435.3 604,435.9 634,435.2 660,432.5 676,432.6 684,432.1 700,432.6 704,431.8 709.7,429 729.1,415 732.6,411 736.7,403 740.9,397 746,392 750,390 756,387.8 768,384.6 768,473 379.1,473 376.9,467 372.9,461 372.5,459 372.9,457 375,453 375.3,451 374,449.6 372,449.2 368,449.6 365.8,451 364,455.2 362,458.3 354,465.5 352.8,469 352.4,473 168.2,473 162,465.2 156.9,463 150,461.7 146,461.9 142,462.8 136,465.2 136,380.3 150,379.4 156,380.7 160.3,383 168,389.3 176,393.3 196.7,407 206,411.9 214,415.3 226,418.1 236,421.6 248,428.4 262,433.1 266,433.5 274,432.5 284,424.5 286,423.7 292,422.8 296,422.6 298,423 308,426.9 310,427.1 316,424.6 322,423.5 324,422.1 330,414.7 338.9,407 339.9,405 340,402.8 341.7,401 348,400.8 356,399.3 370,400.9 372,399.9 377.4,395 378.5,393 378.8,391 378.2,389 375.7,385 375.9,383 379,375 380.4,369 381.1,363 381.6,345 385.1,327 388.8,313 389,309 388.1,303 382.6,285 380.1,279 377.7,275 374.5,271 365.4,263 360,254 356,250.8 352,249.4 348,248.8 342,248.6 334,250.3 328,252.6 312,260.1 298,263.6 290,266.7 270,278.4 266,281.8 263.5,285 261,291 260.5,295 260.8,299 262,301.1 270,304.1 273.7,307 276.2,311 276.7,317 276,319.8 274.4,323 270.8,327 265.4,331 256.8,335 254.7,337 253.6,339 252.9,345 255.6,359 256.8,371 256.1,379 254,383.3 252,384.7 250,385.3 242,386.3 226,383.4 214,379.3 203.9,373 196,366.2 191,359 188.2,351 187.9,339 186.9,333 184,327.1 177.4,319 175.4,315 174.3,311 174.1,307 175.1,291 174.3,275 176,261 171,237 166.4,197 166.1,187 167.2,157 168,157ZM475.8,393 474.4,395 475.2,401 476.1,417 477.8,423 481.2,429 484,431.7 492,436.6 499.5,443 504.4,445 509.2,445 510.6,443 508.2,435 507.5,427 508.7,413 508.2,409 506,404 504,401.3 500,398.4 496,397.3 482,396.4 475.8,393ZM416.5,439 415.5,441 414.5,447 416,449.9 418,451.2 422,451.9 426,452 428.7,451 429,449 428,445.9 424,440.3 422,438.7 420,437.9 418,438 416.5,439ZM435.8,457 436.9,461 442.5,469 444,470 446,470.2 448,469.3 450,467.2 451.3,463 450.8,461 450,460.1 448,458.9 444,457.7 438,456.7 435.8,457Z"/>
<path fill="#00ff7f" d="M182,157 329,157 332,203 330.5,219 329.7,223 327.9,227 321.9,235 310,247.2 306,249.7 296,253.3 290,256.6 277,267 266,274.7 260.2,281 257.4,287 256.5,291 256.3,297 256.9,301 257.8,303 260,305 266,305.9 270,307.8 272.6,311 273.4,315 272,319.6 265.5,327 263.4,329 256,332.9 254,334.6 251.5,339 251.2,345 254.8,363 255.5,371 253.9,379 252,381.6 250,382.8 242,383.8 236,383.4 224,380.7 214,376.7 205.4,371 198.6,365 194.4,359 192,353 191.2,349 191.1,339 189.9,333 187.4,327 182.4,319 180.5,313 180.7,309 182.2,301 182.8,291 181.6,275 182.8,251 181,239 180.4,231 180.7,205 179.9,167 180.1,157 182,157ZM402,282.7 406,281.5 412,282.5 418,286.6 422,291.6 437.1,321 444.2,337 460.4,365 464.3,379 469.2,391 470.4,403 472.6,409 474.5,419 475.9,423 479.7,429 482,431.7 497.3,443 501.6,445 506,446 510,445.8 511.2,445 511.8,443 509.9,437 509.4,433 509.7,425 511.9,413 512.2,409 511.6,405 509.3,397 508.3,389 509.3,387 512,385.2 516,383.9 520,384 523.1,385 536,392.7 538.2,401 545.4,415 548.3,419 553.9,423 560,425.7 578,430.6 588,434.3 596,435.7 604,436.2 634,435.5 660,432.8 684,432.5 698,433.1 704,432.3 711,429 726.6,419 731.7,415 734.8,411 737,405 740.7,399 743.7,395 746,393.2 754,389.7 768,385.8 768,473 380.1,473 377.7,467 373.7,461 373.2,459 373.5,457 376.1,451 374.4,449 372,448.8 368,449.2 366,450.4 362,457.3 354,464.4 352.1,469 351.8,473 170.2,473 168,471.3 162,464.3 158,462.7 150,461.1 146,461.1 142,461.8 136,464.1 136,381.7 148,381.4 152,381.9 155.4,383 160,385.7 166.4,391 174,394.3 194,407 206,413.1 216,416.7 226,418.8 236,422.1 244,426.8 250,429.7 264,434 274.2,433 276,432 282,426.4 286,424.2 288,423.8 296,423 308,427.3 310,427.5 316,425 322,424 325.6,421 330,415.3 338,408.8 339.7,407 341.2,403 342,402.2 356,399.8 368,401.6 372,400.9 379.3,395 382.8,389 382.6,381 385.1,365 385.9,347 388,340.9 395.7,323 399.1,313 400,305 397.7,293 397.5,289 399.3,285 402,282.7ZM416.1,437 414.7,439 414,441 413.4,447 413.9,449 415.7,451 420,452.7 432,453.9 435.8,461 442,469.4 444,470.7 446,470.9 449.4,469 450.9,467 452,463 451.6,461 450,459.1 438,455.3 432.6,453 429.4,445 425.1,439 422,436.6 420,436.1 418,436.2 416.1,437ZM488,385 492,385.5 495.2,387 496.5,389 495.3,391 490,393.2 486,392.9 484,391.6 482.8,389 483.7,387 486,385.5 488,385Z"/>
<path fill="#00ff66" d="M196,157 282.1,157 289.8,179 290.7,189 290.2,201 288.8,207 283.3,223 282.9,237 281.1,245 277.5,253 274,259 270.3,263 264,268 259.1,273 254.8,279 252.4,285 252.1,293 253.6,301 255.7,305 260.4,309 261.2,311 260,312.3 259.3,315 259.7,319 261.2,323 261.2,325 260.2,327 252.2,333 250,337.2 249.4,341 249.5,345 253.9,365 254.2,369 253.8,373 252,377.7 250,379.7 248,380.5 240,381.5 234,380.9 225.9,379 216,375 209.6,371 202,364.6 197.7,359 195.3,353 194.6,349 194.6,337 193.5,333 188.5,321 187.2,315 187.3,313 189.6,307 190.1,303 189.3,285 186.9,265 187.4,259 188.9,251 188.6,241 189,235 193.7,211 195,201 195.3,191 194.7,165 195.4,157 196,157ZM416,316.2 418,315.6 420,315.8 422,317 426,321.5 432,330.7 443.3,351 456,369.5 465.6,391 467.1,397 468,405 470.8,411 474,423 482,433.3 492,441 499.2,445 508,446.9 510,446.8 512.6,445 512.8,443 510.9,437 510.7,433 512.2,423 516.7,409 517.5,403 517.1,399 515.3,395 514.5,391 515.2,389 518,387.3 520,387.5 522,388.5 524.5,391 526.6,395 532,399.8 534,402.6 544.3,419 548,422.2 558,426.8 578,431.3 588,434.7 596,436.1 604,436.6 636,435.7 660,433.2 684,432.9 698,433.5 704,432.8 712,429.2 722,422.8 729.4,419 734.8,415 736.2,413 739.5,403 743.2,397 746,394.3 750,392.1 768,386.9 768,473 381.1,473 378.5,467 374,459.7 374.1,457 376.8,451 376.1,449 374,448.5 368,448.8 364.8,451 362,456.4 354,463.4 352.9,465 351.6,469 351.1,473 172.7,473 168,470 163.7,465 160,462.6 148,460.3 142,460.9 136,462.9 136,383.1 148,383.4 154,384.8 158,386.9 166.2,393 174,396.2 194,408.7 206,414.4 216,417.5 228,419.9 236,422.6 250,430.2 262,434.1 266,434.5 274,433.5 276,432.6 279.4,429 284,425.7 292,423.6 296,423.4 308,427.7 310,427.9 316,425.4 320,425 324,423.4 330,415.8 338.6,409 342.5,403 344,402.3 356,400.3 370,402.3 373.6,401 386,392.4 387,391 387.5,389 388.9,371 391.4,351 392.4,347 398,336.3 406,324.6 410,320.3 416,316.2ZM417,435 414.1,437 412.9,441 412.5,447 412.9,449 414.2,451 418,453.1 430,455.5 432,457.3 442,470.2 444,471.6 446,471.8 450,469.3 451.6,467 452.7,463 452.4,461 451,459 439.8,455 436.2,453 434.1,451 430,443 425.3,437 422,434.9 420,434.6 417,435Z"/>
<path fill="#00ff4f" d="M216,157.9 216.2,157 257.8,157 261.8,175 262.2,185 260.7,199 260.7,205 261.5,221 264.7,239 264.9,247 263.6,253 261.8,257 246.4,279 245,283 245.6,287 250.1,301 256.9,311 257.4,321 256.4,325 250,331 248.9,333 247.8,337 248.1,347 250.6,359 252.4,365 252.5,371 250.9,375 249,377 246,378.2 242,378.8 234,378.7 228,377.3 222,375 211.4,369 206,364.7 202.5,361 200,357 198.3,351 198.3,347 199.4,341 199.5,337 194.1,325 193.3,321 194,316.5 197.3,311 198.5,307 196.9,295 197.9,285 192.4,267 192,261 194,253 195,243 196.1,239 200,230.7 211.3,211 213.8,205 214.5,199 213,181 212.9,173 214,165 216,157.9ZM416,332.8 418,332.8 422,334.2 426,337.5 430,342.7 437.8,355 444.1,363 452.9,373 462.8,391 464.7,397 466.2,405 469.3,413 471.4,421 473.6,425 482,434.7 490,441.1 496.8,445 506,447.4 512,447.1 513.7,445 513.8,443 511.6,435 514.2,423 516,418.7 522,409.1 524,406.3 526,405 528,404.9 530,405.9 538,415.3 541.8,421 543.9,423 546,424.1 558,428.3 578,432 587.6,435 596,436.5 604,436.9 634,436.1 660,433.5 684,433.3 700,433.8 704.9,433 710.1,431 722,423.7 736,417.5 738.2,415 739.6,407 741,403 744,397.6 746,395.5 752,392.3 768,388 768,473 382.2,473 379.4,467 375.2,461 374.5,459 374.7,457 377.5,451 377,449 376,448.2 374,448.1 368,448.6 366,449.5 364.4,451 362,455.6 354,462.5 352.2,465 350.5,473 175.2,473 170,470.3 162.3,463 160,461.9 148,459.7 142,460.1 136,461.9 136,384.6 148,385.5 154,387.1 166,394.6 174,398.2 192,409.5 208,416.2 218,418.8 228,420.4 236,423 250,430.6 262,434.7 266,435 274,434 276.2,433 280.1,429 284,426.2 292,424 296,423.8 310,428.4 312,427.9 316,425.8 320,425.6 324,424 326,422 329.4,417 338,410.4 340,408.4 342,404.9 344,403 356,400.7 368,402.7 372,402.6 375.8,401 388,393.2 389.9,389 391.9,381 394.1,367 400,348.3 404,341.7 408,337.1 412,334.1 416,332.8ZM413.9,435 412.5,437 411.9,439 411.6,447 412,449.2 414,452 418,453.9 428,456 430,456.9 438,465.7 442,471.1 444,472.5 446,472.7 448,472 450,470.3 452,467.6 453,465 453.2,461 452.1,459 450,457.7 441.6,455 438,453 434.4,449 432,443.9 428.9,439 425.1,435 422,433.5 420,433.2 416,433.8 413.9,435Z"/>
<path fill="#00ff38" d="M234,220.1 236,219.5 238,220.3 240,222.5 244,229.4 248,239 249.4,245 249.7,249 248.8,255 245.5,263 241,269 232,277 231,279 230.9,281 233.4,285 241,293 246.5,303 253.7,311 254.5,313 254.9,317 254,321.4 252,323.4 249,325 246.7,327 245.8,329 245.2,333 246.5,349 248.4,359 250.9,367 250.4,371 248,374.3 246,375.4 238,376.7 230,375.4 220.2,371 210,364.4 204.6,359 202.4,355 201.6,349 202.6,345 205,339 205.3,335 203.7,331 199.7,325 199.3,323 200,320.7 206,315.8 207.6,313 208.3,309 208,297 208.8,293 212.3,283 212.2,281 211.3,279 204.3,271 201.2,265 200.6,259 203.1,247 206.6,241 214,233.3 222,227.3 234,220.1ZM416,344.5 420,345 424,348 439.9,365 448,372.6 452,377.5 458,386.7 461.1,393 469.8,421 471.8,425 473.5,427 482,436 490,442.4 498,446.2 506,447.9 512,447.9 514,446.7 514.7,443 512.5,435 516.3,423 518,420 522,415.8 526,413.5 528,413.2 530,413.8 534,416.6 539.4,423 544,426 550,427.1 556,429.3 576,432.2 586.1,435 596,436.9 604,437.2 636,436.3 660,433.8 684,433.7 696,434.3 704,433.6 711.6,431 724,423.8 736,420.4 739.2,419 740.9,417 741.5,415 741.8,405 744,399.9 745.9,397 752,393.3 768,389.2 768,473 448,473 450,471.3 453,467 453.9,463 453.9,461 453.2,459 450,457.1 444,455.3 439.5,453 435.7,449 432,441.4 428,435.7 424,432.8 420,431.9 414,433.1 412,434.8 411,437 410.7,447 411.8,451 413.8,453 416,454.1 428,457.1 430,458 434.1,463 438,466.6 442,472.2 443.2,473 383.4,473 380.3,467 375.1,459 375.3,457 378.1,451 378,449 376,447.4 368,448.3 366,449 364,450.9 361.8,455 352.7,463 351,467 349.8,473 177.6,473 170,469.2 163.3,463 160,461.3 148,459 142,459.2 136,460.9 136,386.3 148,387.5 154,389.3 164,395.2 174,400.2 188,409.9 198,413.2 206,416.7 218,419.6 228,420.9 236,423.4 250,431.1 261.4,435 266,435.4 272,434.7 276,433.6 280.7,429 284,426.8 292,424.4 296,424.2 310,428.8 312,428.5 316,426.3 322,425.6 325.9,423 330,416.9 338,411.2 340,409.2 342.7,405 345.9,403 356,401.2 370,403.5 373.9,403 378,401.5 382,398.4 388,395.2 390,393 394.4,383 398,368.1 404,356.1 410,348.1 414,345.2 416,344.5Z"/>
<path fill="#00ff22" d="M220,248.8 222,248.1 226,247.8 229.6,249 232,251 233.2,253 233.9,257 232.1,261 230,262.9 226,264.7 222,265 218,263.8 214.9,261 214,259 214.4,255 217,251 220,248.8ZM224,292.3 228,291.6 232,293 235.8,297 237.1,301 237.1,305 234.2,311 233.8,315 236.7,325 242.5,339 246,359 248.4,367 248.3,369 247.1,371 244.2,373 242,373.7 238,374.3 234,373.9 226,370.7 210,360.4 206.8,357 205.1,353 204.9,351 205.7,347 210.8,337 216.2,319 217.3,305 218.5,299 220.6,295 224,292.3ZM244,310.8 247.1,311 250,313 250.7,315 250,317.4 248,317.8 246,317.4 242.6,315 242.4,313 244,310.8ZM412,357 414,356 418,355.3 424,357.5 434,364.7 446,374.9 454,384.7 458.9,393 460.6,397 468.2,421 470,424.7 471.8,427 481.7,437 489.2,443 498,447 508,448.7 512,448.7 514.9,447 515.5,443 513.7,437 514,433.6 518.6,423 522,419.6 526,418.2 530,418.9 540,426.6 544,428.3 550,428.7 556,430.5 576,432.9 596,437.3 604,437.5 636,436.7 660,434.2 684,434.1 696,434.8 706,433.6 713,431 724,424.7 732,422.8 738,422.3 742,421 744,419.5 744.7,417 743.2,407 744,403 746,398.9 747.8,397 752,394.4 768,390.4 767.8,473 449.4,473 452,469.9 453.6,467 454.5,463 454,458.8 451.7,457 444.7,455 440,452.4 436.8,449 434,442.6 428,433.7 424,431.4 420,430.6 416,430.9 412,432.2 410,434.8 409.3,439 409.8,447 410.7,451 412.2,453 414,454.2 428,458 429.8,459 432.9,463 437.4,467 441.7,473 405.2,473 404,470.9 402,470.7 400.5,473 384.6,473 381.4,467 375.8,459 375.8,457 378.9,451 378.8,449 378,447.3 376,446.8 368,448 366,448.7 364,450.4 361.1,455 356,458.8 352,462.8 350,468.9 349.3,473 180,473 170,468.2 164,462.8 160,460.7 148,458.4 142,458.5 136,460 136,388.4 148,389.5 154,391.3 172.3,401 177.7,405 184,410.7 188,413 198,414.6 206,418 218,420.4 230,421.9 238,424.7 250,431.5 254,433.2 262,435.6 268,435.7 274,434.9 276,434.1 281.3,429 284,427.3 292,424.8 296,424.6 310,429.2 312,429 316,426.7 322,426.2 326,423.7 330,417.6 339.1,411 344,404.6 347.8,403 356,401.6 370,404 378,404 382,400.1 388,396.8 391.8,393 397.2,383 399.9,373 402,368 406,362.2 412,357Z"/>
<path fill="#00ff0b" d="M226,334.7 230,335.1 234,336.8 238,340.4 240,344.3 242.7,355 244.8,367 244,369 240.8,371 236,371.5 229.2,369 212,357.4 209.7,355 208.8,353 208.5,351 209.8,347 214,341.5 220,336.5 226,334.7ZM414,363 420,362.7 426,364.6 434,369 444,376.7 452,385.7 458,395.5 466.6,421 468.5,425 470.1,427 480.5,437 488,443.2 496,447.1 508,449.2 513.9,449 516,447 516.4,443 514.7,437 514.7,435 520,424.3 522,422.5 526,421.5 530,422.7 538,427.6 544,429.9 550,430 556,431.6 576,433.5 596,437.7 636,437 660,434.5 684,434.5 696,435.2 706,434.1 712,432.2 724,425.5 732,423.9 738,423.9 744,423.2 746,422.2 746.9,421 747.4,417 745.2,409 745.1,405 747.8,399 749.9,397 753.4,395 760,393.1 768,391.7 768,467.9 766,470.4 765.6,473 450.6,473 453.3,469 454.8,465 455.2,461 455,459 454,457.6 452,456.4 444,454.1 440,451.5 437.9,449 434.3,441 429.2,433 426,430.8 420,429.2 412,429.7 410,430.6 408.7,433 408,439 408.9,449 409.6,451 410.9,453 413.5,455 428,459 430,460.4 433.6,465 436.4,467 440.6,473 408,473 404.9,469 404,468.3 402,468.1 397,473 386.1,473 382.6,467 376.8,459 376.7,457 379.7,451 379.1,447 378,446.4 368,447.7 364.9,449 363,451 360.4,455 356,458 352,461.9 350.6,465 348.8,473 182.2,473 172,468.6 168,465.9 162.5,461 160,460.1 148,457.8 142,457.7 136,459 136,390.9 148,391.4 156,394.1 172.4,403 177.2,407 184,415.2 186,416.6 188,416.8 196,415.6 200,416.7 206,419.3 218,421.2 226,421.5 230,422.3 238,425.1 250,432 254,433.7 262,436 268,436.1 276,434.6 281.9,429 284,427.7 292,425.2 296,425 310,429.7 312,429.6 316,427.2 320,427.1 324,426 327.3,423 330,418.4 338,412.9 340,411 344,405.4 348,403.5 354,402.2 358,402.2 370,404.5 374,404.6 378,406.7 380,406.8 382,402.4 384,400.6 390,397.3 398.2,387 400,383 403.2,373 406,368.4 410,364.7 414,363ZM188,437 189,439 190,439.4 194.3,439 194,436.9 190,436.3 188,437ZM236.4,457 238,458.5 240,457.5 240.1,457 238,455.4 236.4,457Z"/>
<path fill="#0cff00" d="M220,344.9 224,343.6 228,343.5 232,344.8 234.9,347 238,351.9 240,357.2 240.9,363 240.8,365 239.8,367 238,367.9 236,368.1 232,366.7 224.4,361 215.5,353 214.8,351 215.4,349 217,347 220,344.9ZM412,368.7 418,367.4 426,368.9 434,372.6 442,378.4 450,386.7 456.6,397 460.4,407 463.3,417 465.7,423 468.2,427 488,444.1 496,447.7 508,449.7 514,449.6 516,448.2 517.2,445 516.9,441 515.9,437 516.1,435 522,425.4 524,424.4 526,424.2 532,426.1 537.6,429 543,431 550,431.1 556,432.5 576,434.1 598,438.2 636,437.3 660,434.8 684,434.8 696,435.6 706,434.6 712,432.9 724,426.3 732,424.9 740,425.1 746,424.2 748,422.8 749.2,419 748.8,415 746.7,407 746.8,405 748.3,401 752,397.2 756,395.3 762,393.7 768,393.1 768,466.1 766,468.1 764.6,471 764.3,473 451.6,473 454,469 455.3,465 455.8,459 454.6,457 452,455.8 446,454.4 440.4,451 438.7,449 436,442.1 432,434.7 429,431 426,429.4 422,428.1 410,427 407.6,429 406.5,437 407.8,449 409.6,453 411.5,455 414,456.1 428,460.1 430,462 432,465 436,467.9 439.4,473 409.5,473 406,468.2 404,466.6 402,466.1 396,471.2 394,472.2 390,472.7 388,472.2 377.9,459 377.7,457 379.9,453 380.6,449 380,446.6 378,445.7 368,447.4 364.4,449 360,454.7 356,457.2 352,461 350.1,465 348.3,473 183.6,473 182,471.9 172,467.9 162,460.1 148,457.1 142,457 136,458.2 136,393 144,392.7 150,393.6 156,395.7 168,401.9 172.4,405 176.5,409 179.2,413 184,422 186,423.1 188,422.4 192,418.7 196,417.3 206,420.7 212,421 218,422 228,422.3 238,425.4 250,432.5 254,434.2 262,436.5 266,436.7 276,435.1 282,429.4 284,428.2 292,425.6 296,425.4 310,430.2 312,430.3 316,428.1 320,427.8 324,426.7 326,425.4 328,423 330.2,419 340,411.8 344,406.2 346,404.8 350,403.4 356,402.5 362,403.1 369.8,405 374,405.3 378,408.2 380,408.6 382,407.7 383.3,407 385.3,403 388,402.1 390,402 396,393.5 400,389.4 402,385.4 406,374.4 408.6,371 412,368.7ZM392.1,407 393.2,411 394.7,413 398,414.7 400,414.2 400.8,413 400.9,411 400,408.7 398,407 394,405 392.1,407ZM183.1,429 182,429.2 180,431 179.4,433 180.1,435 182.8,437 190,441.1 196,441 197.8,439 198,434.9 196,433.6 192,434 188,433 184,428.7 183.1,429ZM394,453 395,455 396,455.4 396.8,455 398.1,453 396,451.5 394,453ZM234,455 234,457 235.3,459 238,460.9 240,460.8 241.4,459 241.1,457 240,455 236,453.9 234,455Z"/>
<path fill="#24ff00" d="M228,350.9 230,351.2 232,352.5 233.9,355 235.1,359 234.4,361 230,359.3 227.2,357 225.7,355 225.4,353 226,352 228,350.9ZM414,372.2 420,371.3 426,372.3 432,374.6 440,380.1 448,388 454.1,397 458.3,407 460.6,415 462.9,421 464.8,425 468,428.9 476,434.8 488.1,445 496,448.3 510,450.3 514,450.1 516.3,449 517.5,447 517.9,445 517.3,437 517.9,435 522,428.7 524,427.1 526,426.7 532,427.7 539.8,431 544,432.1 550,432 556,433.3 576,434.7 598,438.5 636,437.6 660,435.2 684,435.2 696,436.1 708,434.7 713.2,433 722,427.8 726,426.5 734,425.6 744,425.7 747,425 749.4,423 750.4,421 750.5,417 748.5,407 748.6,405 750.2,401 754,397.6 758,395.7 762,394.7 768,394.2 768,464.7 765.7,467 763.7,471 763.5,473 452.6,473 454.6,469 455.9,465 456.5,459 455.7,457 454,455.8 446,453.8 441.4,451 438.5,447 436.5,441 433.5,435 430,430.1 426,427.9 422,426.7 410,424.7 406.5,427 405.1,431 405.1,437 406.1,443 406.3,449 407,451 409.9,455 412,456.3 424,459.7 428,461.3 432,466.5 436,469.6 438.1,473 410.5,473 406,466.7 404,464.9 402,464.2 400,465.2 396,469.4 394,470.4 390,470.7 388,469.9 379.4,459 379.1,457 381.1,453 381.6,449 381.3,447 380,445.1 378.6,445 372,446.8 368,447.1 363.9,449 360,454.1 355.5,457 351.4,461 350,463.6 347.8,473 184.6,473 182.2,471 178,469.8 172,467.2 162,459.6 148,456.6 142,456.4 136,457.4 136,394.7 144,394.4 152,395.8 166,402.4 172,406.7 177,413 181.1,423 180.8,427 178,432.7 178.9,435 183.7,439 190,441.8 196,442.1 198,441.2 199.8,437 199.4,433 198,431.3 192,431.7 190,430.7 188.6,429 188.3,427 189.1,425 192,421.8 194,420.3 196,419.7 198,419.8 204,422 218,422.9 226,422.5 230,423.1 238,425.8 252,433.9 260,436.5 266,437.1 276,435.5 284,428.6 292,426.1 296,425.9 308,430.1 312,430.9 316,428.9 322,428.2 324,427.5 327.3,425 331.2,419 340,412.7 344.1,407 348,404.5 354,403.1 362,403.5 368,405.1 374,405.9 378,409.2 380,409.5 386,408.2 388,408.7 390,410.1 394.3,415 398,416.7 400,416.7 402.5,415 403.5,411 402.4,407 398.7,401 398.4,397 403.5,389 408.3,377 410,374.8 414,372.2ZM393.6,451 392.2,453 392.3,455 394,456.5 396,457.2 398,456.6 399.6,453 399.5,451 398,449.9 396,449.8 393.6,451ZM234.3,453 232.4,455 232.4,457 234,460.2 236,462.1 238,462.9 240,462.6 242,461.1 242.4,459 242.1,457 240.7,455 238,453.3 234.3,453Z"/>
<path fill="#3bff00" d="M418,374.8 424,374.9 428,375.9 432,377.7 438,381.9 445.6,389 450,394.9 453.6,401 459.2,417 462.8,425 465.7,429 468,430.9 476,435.8 487,445 491.1,447 496.3,449 512,450.9 516,449.8 518,447.5 518.6,445 518.7,437 520.9,433 524,429.5 528,428.5 532,429.1 544,432.9 550,432.9 556,433.9 576,435.2 598,438.9 636,438 660,435.5 684,435.6 696,436.5 708,435.2 714,433.3 724,427.7 732,426.5 744,426.6 746,426.3 748.7,425 750.6,423 751.5,421 751.7,417 750.2,407 750.4,405 752,401.4 754.3,399 758,396.9 762,395.7 768,395.3 768,463.3 766,465 764,468.6 762.7,473 453.5,473 456,467 456.7,463 457.1,459 456,456.3 454,455 446,453.2 442,450.7 439.3,447 437.4,441 433.7,433 430,428.5 424,425.6 412,422.8 410,422.7 406,424.8 403.6,429 403.4,433 404.6,443 403.7,449 408.3,455 410,456.4 425.2,461 428,462.8 431.1,467 435.2,471 436.4,473 411.2,473 410,470.5 406,465.3 404,463.2 402,462 400,462.1 396,467.8 394,468.9 389.9,469 388,467.9 386,465.8 381.2,459 380.9,457 382.5,453 382.8,451 382.3,447 381.1,445 380,444.6 376,445 372,446.6 367.4,447 363.5,449 360,453.4 354.7,457 350.8,461 349.8,463 347.4,473 185.4,473 183.5,471 172,466.6 162,459 148,456 142,455.7 136,456.6 136,396.2 144,396 152,397.3 158,399.7 168,405.4 174,411.3 176.2,415 178.7,421 179.4,425 179.1,427 177.4,431 177.2,433 178,435.2 182,438.9 186.1,441 190,442.5 196,443.1 198,442.4 200.4,439 201.2,435 200.5,431 200,430 198,429.1 194,430 192,429.6 190.5,427 192,424.3 194,422.8 196,422.3 204,424 218,423.9 226,423 230,423.5 238,426.2 252,434.4 260,437 266,437.5 276,435.9 284,429.1 292,426.5 296,426.3 308,430.5 312,431.4 316,429.9 324,428.3 328,425.3 332,419.3 340,413.6 345.1,407 348.2,405 354,403.6 362,403.9 372,405.9 374,406.5 378,409.8 386,410 388.2,411 394,416.7 396,417.8 400,418.4 402,417.8 404.8,415 405.9,411 405.5,407 402.6,399 402.8,397 408.7,383 410.9,379 414,376.2 418,374.8ZM394.6,449 391.8,451 390.6,453 390.6,455 392,456.9 394,458.1 398,459.1 400,456.7 401.7,451 401.2,449 398,448.3 394.6,449ZM231.9,453 230.9,455 230.9,457 232,460.1 234,462.9 236,464.5 238,465 240,464.5 242,463.1 243.1,461 243.1,459 241.4,455 238.7,453 236,452.2 234,452.2 231.9,453Z"/>
<path fill="#53ff00" d="M416,378.9 418,378.1 422,377.7 428.3,379 435,383 443.9,391 450.9,401 458.6,421 461.8,427 465.2,431 476,436.8 486,445 489.7,447 496,449.4 512,451.3 514.7,451 517.9,449 518.9,447 519.5,439 520.9,435 524,431.4 528,429.9 532,430.2 544,433.6 550,433.6 556,434.5 578,435.9 598,439.2 636,438.3 660,435.8 684,436 696,436.9 708,435.7 714,433.9 722,429.3 726,427.9 734,427.1 746,427.1 750,425.1 751.7,423 752.8,419 751.8,407 752.9,403 756,399.5 760,397.3 764,396.4 768,396.3 768,461.8 765.2,465 762.3,471 762,473 454.3,473 456.5,467 457.6,461 457.3,457 456,455.3 454,454.3 446,452.6 441.3,449 440,447 438,440.3 435,433 432.3,429 430,426.9 424,424 410,420.3 406,422 404.8,423 402.4,427 401.6,431 403.1,441 402.4,445 400,446.6 394,447.9 392,449.2 388.5,453 388.4,455 390,457 396.1,461 397,463 396.5,465 394.8,467 392,467.9 390,467.4 388,465.9 383.9,461 383.2,459 383.2,457 384.7,453 384.3,451 383.3,447 382.3,445 380,444.1 376,444.7 372,446.3 366.3,447 363,449 360,452.8 354,456.9 350.3,461 347,473 248.6,473 248,472.5 244.9,473 186.2,473 184,470.7 176,468 172,466 162,458.5 148,455.5 142,455.1 136,455.8 136,397.7 144,397.5 152,398.8 160,402.2 167.8,407 173.3,413 177.1,421 177.9,425 176.4,433 178,436.1 181.1,439 184.5,441 190,443.2 196,443.8 198.6,443 200.4,441 201.4,439 202.4,435 202.3,429 203,427 208,425.3 216,425.1 226,423.5 230,423.8 238,426.5 252,434.9 258.4,437 264,438 276,436.3 278,435.1 281.9,431 284,429.5 288,428 294,426.6 298,427.2 308,431 312,431.9 322,429.8 326,428.1 328,426.5 332,420.6 340,414.5 346.1,407 349.8,405 354,404.1 362,404.3 372,406.2 374,407 378,410.3 384,410.8 388,412.4 392.3,417 396,419.5 402,420 404,418.9 407.6,415 408.6,411 408.5,407 406.4,399 406.6,397 412,383 414,380.4 416,378.9ZM230.3,453 229.5,457 230.7,461 234,466.1 236,468.2 238,468.7 243.6,463 244.1,461 243.1,457 242.1,455 240,453.1 236,451.6 232,451.6 230.3,453ZM194,425.3 196.1,427 194,427.9 192.8,427 194,425.3ZM404,452.5 408.3,457 418,459.6 426,462.6 428,464.5 434.4,473 411.9,473 402,458 402,454.3 404,452.5Z"/>
<path fill="#6aff00" d="M420,381 424.3,381 430,383.2 440,391 443.9,395 448,400.9 450,404.8 457.1,423 460.8,429 464,432.6 476,437.6 486,445.6 493.1,449 498,450.2 512,451.7 516,451.1 518.6,449 519.5,447 521.1,437 524,433.1 528,431.2 532,431.3 544,434.2 578,436.4 598,439.5 636,438.7 660,436.2 684,436.4 696,437.4 710,435.8 714,434.5 722,430 726,428.5 734,427.7 746,427.8 750,426 752.8,423 753.6,421 753.4,407 754.7,403 756.4,401 760,398.6 764,397.5 768,397.3 768,460.3 766,462 764,465.6 762,469.9 761.4,473 455.2,473 457,467 458.3,459 458.1,457 456.8,455 454,453.7 448.8,453 446,452 442.1,449 440,445 436.3,433 434,429.1 432,426.9 428,423.8 424,422.1 416,419.9 412.1,417 411.4,415 411.9,405 411,399 411.8,393 414.4,385 416,383 420,381ZM140,398.9 148,399.3 154,400.7 162.4,405 168,408.9 172.9,415 175.7,421 176.7,425 175.6,431 176.5,435 178,437.1 182,440.3 187.7,443 192,444.1 196,444.5 198,444.2 200,442.9 202.3,439 204.7,429 206,427.8 208,427.2 216,426.5 226,424 230,424.2 236,426 244,430.2 252,435.4 260,437.8 264,438.4 276,436.7 278,435.6 284,430 288,428.4 294,427.1 298,427.7 312,432.4 322,430.6 326,429.1 328,427.6 332.9,421 340.4,415 347.2,407 350,405.6 356,404.4 362,404.7 372,406.6 374,407.5 378,410.8 386,412.3 388,413.8 394,420.4 401,423 399.7,431 401.7,441 401.4,443 400,444.7 394,446.4 388,450.7 386,450.4 383.3,445 380,443.6 376,444.4 372,446.1 365.6,447 362.5,449 359,453 354,456.4 350,460.7 346.6,473 251.2,473 250,471 243.5,469 242.8,467 244.7,463 244.7,461 243.6,457 242,454.4 238,451.7 236,451 232,450.5 230,451.2 228.8,453 228.2,457 229.1,461 231.8,467 232.7,473 187.1,473 184,470.2 176,467.5 172,465.4 162,458 148,454.9 142,454.5 136,455.1 136,399.2 140,398.9ZM386,458.3 388,458.1 394,461.7 395,463 394.8,465 394,465.8 392,466.3 390,465.5 386.1,461 385.7,459 386,458.3ZM410,458.9 416,459.8 424.7,463 427.1,465 432.1,473 412.6,473 406.9,463 406.6,461 408,459 410,458.9Z"/>
<path fill="#81ff00" d="M420,384.7 424,384.5 428,386.3 438,393.3 441.9,397 447,405 454.5,423 462,433.9 466,435.8 472,436.8 476,438.3 486,446.2 494,449.9 512,452 516,451.5 519.3,449 520.2,447 521.4,439 522.2,437 524,434.6 526,433.1 530,432.1 544,434.8 578,436.9 598,439.8 636,439 660,436.5 684,436.9 696,437.9 710,436.3 714,435.1 722,430.7 726,429.2 734,428.3 746,428.4 750,427 752.4,425 754.5,421 754.9,407 756,403.9 758.7,401 762,399.1 768,398.4 768,458.7 766,460.3 764,463.7 761.7,469 760.9,473 456,473 458.9,459 458.8,457 457.9,455 456,453.5 448,452.3 445.3,451 442.9,449 440.6,445 437.7,433 434,427 428,421.7 424,419.9 418,418.6 415.8,417 414.9,415 416.3,391 417.5,387 420,384.7ZM138,400.3 144,400.1 152,401.4 158,403.9 166,409 171.3,415 174.3,421 175.5,425 175.1,433 177.3,437 182,441 188,443.6 194,445.1 198,444.9 201,443 203.3,439 206,431.2 208,429.3 216,428.1 222,425.5 226,424.4 230,424.5 236,426.3 244,430.5 252,435.8 260,438.3 264,438.8 276,437.1 278,436 284,430.4 288,428.8 294,427.5 300,428.7 312,432.9 314,433 322,431.4 326,430 328,428.7 334.3,421 341.4,415 346,409 348,407.3 352,405.6 356,404.9 362,405.1 372,407 374,407.9 378,411.2 384,412.3 386,413.3 387.9,415 392,420.6 396.9,425 397.6,431 400.2,441 399.2,443 394,444.9 388,448.5 386,447.4 384.5,445 382,443.6 380,443.1 372,445.9 366,446.6 364,447.6 358.4,453 352.7,457 350,460 348.6,463 346.2,473 252.9,473 251.9,471 246,467 244.8,459 242,453.9 238,451.3 232,449.6 230,449.6 228.5,451 227.1,455 227,459 229.3,467 228.2,473 187.9,473 184,469.7 174,466.1 162,457.5 148,454.4 142,453.9 136,454.4 136,400.5 138,400.3ZM410,460.1 412,459.9 416,460.6 424,463.8 427.2,467 429.8,473 413.3,473 408.6,465 408.1,463 408.6,461 410,460.1Z"/>
<path fill="#97ff00" d="M426,393.7 430,394.1 434,395.3 437.4,397 439.5,399 444,406.4 451.9,423 459.9,435 462,436.7 466,437.9 474,438.2 478,440.5 486,446.8 494,450.4 512,452.4 516,451.9 518.1,451 520,449 522.3,439 523.3,437 526,434.3 530,433 544,435.4 578,437.4 598,440.1 636,439.3 660,436.8 682,437.2 696,438.3 710,436.9 714,435.7 722.8,431 726,429.8 734,428.9 746,429 751.3,427 754,424.2 755.5,421 756.2,409 757.2,405 758.7,403 762,400.7 768,399.6 768,457.2 766,458.6 764,461.8 761,469 760.3,473 456.8,473 459.5,459 458.9,455 458,453.8 456,452.7 448,451.7 443.7,449 441.2,445 439.6,435 437.4,429 430,420.3 426,417.7 420,415.7 419.2,415 419.1,411 420.5,405 424.6,395 426,393.7ZM138,401.6 146,401.5 152,402.6 158,405.2 164,409 168.3,413 172.1,419 174.2,425 174.4,433 176.7,437 182,441.6 188,444.1 194,445.7 198,445.7 200,444.8 202,443 208,432.2 210,431 216,429.7 220.5,427 226,424.9 230,424.9 236,426.7 244,430.8 252,436.3 260,438.7 264,439.3 276,437.5 278,436.4 284,430.9 288,429.3 294,428 300,429.1 312,433.4 316,433.4 322,432.3 326,431 330,428.1 334,422.8 342,415.3 348,408.1 352,406.1 358,405.3 362,405.5 372,407.3 374,408.4 376.8,411 383.9,413 386.9,415 393.3,425 396.7,435 397.6,439 397.5,441 388,446 382.2,443 380,442.8 376,443.8 372,445.6 366,446.3 364,447.3 358,452.7 354,455.3 350,459.4 348.3,463 345.8,473 254.4,473 252,469.5 248.1,467 246.7,465 245.3,459 242,453.4 238,450.8 230,448.4 228,449.5 226.3,453 225.6,459 226.6,467 224.3,473 188.9,473 184,469.2 174,465.6 162,457 148,453.9 142,453.4 136,453.7 136,401.7 138,401.6ZM412,460.8 416,461.4 424,465 426,467.3 427.6,473 413.9,473 409.3,465 409.1,463 410,461.6 412,460.8Z"/>
<path fill="#aeff00" d="M768,400.8 768,456 766,456.9 764,459.7 760.3,469 759.7,473 457.6,473 460,459 459.8,455 458,452.4 456,451.8 450,451.7 447.6,451 444.6,449 442.9,447 441.5,443 440.9,435 439.4,429 432,417.9 427.3,413 426.3,411 426.3,409 428.5,405 432,402.6 434,402.5 436,403.6 438,405.9 448.7,423 458,435.3 462,439.1 464,440.3 466,440.4 470,439.2 474,439 477.7,441 485.3,447 494,450.9 514,452.8 518,451.6 520,449.8 521.4,447 522.5,441 524,437.5 526,435.4 530,433.9 534,434.1 544,436 580,438 598,440.5 636,439.7 660,437.2 682,437.6 696,438.8 710,437.4 716,435.5 726,430.4 734,429.5 746,429.6 748.9,429 752,427.4 754.5,425 756.5,421 757.8,409 759.1,405 762,402.4 764,401.5 768,400.8ZM138,402.7 146,402.7 152,403.8 158,406.5 164,410.5 168.2,415 171.7,421 173,425 173.7,433 176,437 180,440.9 182,442.2 188,444.6 194,446.3 198,446.4 200,445.8 203,443 206,437.7 208,434.9 210,433.2 216,431.4 222.1,427 228,425.1 232,425.7 238,427.9 243.8,431 252,436.7 260,439.1 264,439.7 276,437.9 278,436.8 284,431.3 288,429.7 294,428.5 300,429.5 309.2,433 314,434.2 324,432.7 327.8,431 330.5,429 335.1,423 343.2,415 348,409 352,406.7 358,405.7 362,405.9 372,407.7 376.2,411 382.3,413 385.8,415 388.7,419 391.4,425 394.8,435 394.9,439 393.6,441 392,442.2 388,444 380,442.5 377.5,443 372,445.4 366,446.1 363.9,447 358,452.2 353.8,455 349.8,459 347.9,463 345.5,473 255.9,473 253.1,469 248,465.4 244.8,457 242.1,453 238,450.4 230,447.3 228,448 225.8,451 224.3,457 224,466.1 222.7,469 219.9,473 190,473 184,468.7 178,467 174,465.1 162,456.4 150,453.6 142,452.8 136,452.9 136,402.8 138,402.7ZM412,461.7 414,461.8 417.4,463 424,466.8 425.1,469 425,473 415,473 410.1,465 410.2,463 412,461.7Z"/>
<path fill="#c2ff00" d="M766,402.5 768,402.2 768,454.8 766,455.6 763.3,459 759.6,469 759.2,473 458.3,473 460.8,457 460.2,453 458,451.1 450,451.1 448,450.5 443.6,447 442.1,443 442.4,433 441.8,427 441.3,425 439.6,423 440,420.9 452,430.5 464,444.4 466,443.8 470,440.7 474,439.8 476,440.5 484.4,447 493,451 496,451.7 514,453.2 518,452.1 520,450.7 522,447 524.1,439 526,436.5 530,434.7 534,434.9 544,436.6 586,438.9 598,440.8 636,440 660,437.5 682,438 698,439.3 712,437.6 716,436.1 726,431 734,430.1 746,430.2 750,429.3 752,428.3 754,426.7 756.7,423 758.5,417 760,407 762,404.4 766,402.5ZM138,403.8 144,403.7 150,404.4 156,406.7 162,410.4 166,414.2 169.4,419 171.8,425 173,433 177.2,439 180,441.6 184,443.7 196,447.2 200,446.7 202,445.4 208,437 210,435.3 218,431.8 223.5,427 228,425.5 232,426 238,428.2 243.3,431 252,437.2 260,439.6 264,440.1 276,438.3 278,437.2 284,431.8 288,430.1 294,428.9 300,429.9 314,434.8 324,433.5 328,431.9 331.8,429 336.4,423 344,415.2 349,409 353,407 358,406.2 362,406.3 372,408 376,411.3 382,413.4 384.8,415 386.7,417 388.7,421 392.7,433 393.1,437 392.4,439 390.7,441 388,442.4 378,442.5 372,445.2 366,445.8 362,448 358,451.7 353.1,455 349.3,459 347.5,463 345.1,473 257.3,473 254.5,469 248.6,465 245.2,457 242.5,453 238,450 230,446.5 227.5,447 225.6,449 223.3,455 221.3,465 218.9,469 215,473 191.4,473 184,468.3 174.6,465 168.5,461 164,457 162,455.9 150,453 142,452.2 136,452.3 136,403.9 138,403.8ZM412,462.7 415,463 421.5,467 422.8,469 422.6,471 421.6,473 416,472.8 411,465 412,462.7Z"/>
<path fill="#d3ff00" d="M138,404.9 146,404.9 150,405.5 156,408 160.9,411 165.1,415 168,419 170.7,425 172.3,433 174.8,437 178,440.5 180,442.2 184,444.2 196,447.9 200,447.6 202,446.6 204,444.6 208,438.9 210,437.2 218,433.4 224,427.5 228,426 232,426.3 238,428.5 242.8,431 250.8,437 262,440.4 266,440.4 276,438.7 278,437.6 284,432.2 288,430.6 294,429.4 300,430.3 314,435.3 324,434.4 328,432.9 332,430.3 337.6,423 350,409.1 354,407.3 358,406.6 362,406.7 372,408.3 376,411.6 384,415.1 385.8,417 387.8,421 391.4,433 391.4,437 390.5,439 388,441 386,441.7 378,442.2 372,444.9 366,445.5 364,446.4 354,453.8 350,457.5 348,460.7 344.8,473 258.7,473 257.7,471 255.8,469 249.4,465 245.6,457 242.9,453 238,449.6 230,445.8 228,445.9 226,446.9 224.3,449 217.8,465 214.6,469 210,472.5 209.2,473 193.3,473 184,467.8 175.4,465 169.2,461 164,456.4 162,455.4 152,452.8 142,451.6 136,451.6 136,405 138,404.9ZM764,404.9 768,403.6 768,453.8 765,455 763.3,457 759.5,467 758.6,473 459.2,473 459.3,469 461.5,457 461.4,451 460,449.1 452,450.5 448,449.9 444.4,447 443.2,445 442.9,443 444.1,435 446,431.5 448,431.3 452,433.2 456,437.2 459,441 462,448.1 466,446.6 472,441 474,440.6 476,441.2 484,447.3 492,451.1 496,452.1 512,453.5 516.9,453 520.6,451 522,448.8 524.9,439 528,436.2 532,435.4 542,437 582,439 598,441.1 636,440.3 660,437.9 682,438.5 696,439.7 702,439.5 714,437.7 726,431.7 734,430.6 746,430.8 752,429.2 754.8,427 757.5,423 760.3,415 760.9,409 762,406.8 764,404.9ZM412,464.9 414,464.1 416,465 418.1,467 419.4,469 418.3,471 416,471 412,464.9Z"/>
<path fill="#e5ff00" d="M138,406.1 146,406 150,406.7 155.4,409 160,411.8 163.5,415 166.7,419 169.6,425 171.5,433 174.2,437 178,441.2 180.4,443 184,444.7 196,448.7 200,448.6 202,447.8 204,446.1 208,440.7 210,438.9 218,435 223.1,429 225.8,427 228,426.4 232,426.7 238,428.8 242.4,431 250,437 256,439.3 262,440.8 266,440.8 276,439.1 278,438 284,432.7 288,431 294,429.8 300,430.7 314,435.9 324.7,435 329.8,433 332.7,431 338.7,423 350,409.9 354,407.8 358,407.1 362,407 372,408.6 376,411.9 383,415 385.1,417 387.1,421 390.3,435 389.9,437 388.8,439 386,440.8 378,441.9 372,444.7 366,445.3 362.4,447 352,454.9 349.9,457 347.5,461 344.4,473 260,473 259.1,471 257.1,469 250,464.9 244.9,455 242,451.8 232,446 228,445 226,445.7 224,447.4 220,455.8 212,467.2 208,470.2 204,471.9 200,472.8 196,472.6 184,467.4 176,464.8 169.9,461 164,455.8 160,454 152,452.2 136,450.9 136,406.1 138,406.1ZM764,406.8 768,405.1 768,452.8 764,454.4 762.2,457 758.7,467 758,473 460,473 459.9,469 460.8,463 463.8,451 468.2,447 471.3,443 474,441.6 476,442.1 486,449 494,452.2 514,453.9 518.3,453 521.3,451 522.5,449 524.7,441 525.8,439 528,437 532,436.1 544,437.7 586,439.7 598,441.4 636,440.7 648,439.1 660,438.2 682,438.9 698,440.3 710,439.1 716,437.5 726,432.4 734,431.2 748,431.3 753.7,429 757.3,425 761.3,417 762.5,409 764,406.8ZM448,434.4 450,434.5 454,437 457.3,441 458.3,443 458.6,445 458,447 455,449 450,449.9 448,449.2 445.3,447 443.9,445 443.6,443 444.3,439 446,435.6 448,434.4Z"/>
<path fill="#f6ff00" d="M768,406.6 768,451.9 764,453 762,455.3 757.9,467 757.4,473 460.9,473 460.6,469 461.3,463 464,453.9 465.7,451 474,442.7 476,442.9 485.1,449 494,452.6 514,454.2 519.5,453 522,451.1 523.2,449 526,440 528,437.9 532,436.8 544,438.2 584,440 598,441.7 636,441 648,439.4 660,438.5 682,439.3 698,440.8 712,439.6 720,436.5 726,433 734,431.9 748,431.9 754,429.7 758,425.2 760,421 762.8,417 763.4,411 764.1,409 766,407.2 768,406.6ZM138,407.2 146,407.2 150,407.9 159.7,413 166,420.1 168.5,425 170.7,433 173.5,437 178,441.8 180,443.4 184,445.3 194,448.9 198,449.7 202.2,449 204,447.8 210,440.6 218,437.2 220,435.1 224.1,429 228,426.8 232,427 238,429.2 242,431.1 250,437.4 256,439.8 262,441.2 266,441.2 276,439.4 278,438.4 284.2,433 288,431.5 294,430.3 300,431.1 314,436.4 316,436.6 326,435.4 331.8,433 334,431.2 339.8,423 350,410.7 354,408.4 358,407.5 362,407.4 372,408.9 376,412.3 382.2,415 384.4,417 386.5,421 387.4,427 389.2,433 389.2,435 388.7,437 386,439.8 378,441.7 372,444.4 366,445 364,445.8 352,454.4 349.4,457 347.1,461 344,473 261,473 260.3,471 258.5,469 250,464.2 245.3,455 242,451.4 232,445.4 228,444.2 224.9,445 222.7,447 218,455.5 208,467 205.1,469 202,470.2 196,471 192,470.1 182,466.2 177.5,465 170,460.5 164,455.3 160,453.4 152,451.6 136,450.2 136,407.2 138,407.2ZM448,436.8 450,436.6 452,437.4 454,439 456.6,443 456.8,445 455.8,447 452.3,449 450,449.2 448,448.3 444.9,445 444.5,443 444.9,441 446,438.5 448,436.8Z"/>
<path fill="#ffdd00" d="M138,408.5 148,408.6 152,410.1 158,413.2 162,416.9 165.3,421 167.4,425 169.9,433 172.8,437 178,442.4 182,445 198,450.7 202,450.6 204,449.8 210,442.5 212,441.3 218,440 220,438.2 225,429 228,427.2 232,427.4 238,429.5 242,431.4 250,437.8 254,439.6 262,441.6 268,441.3 276,439.8 278,438.8 285.1,433 290,431.4 294,430.8 300,431.5 314,436.9 326,436.1 334,432.6 340.7,423 350.6,411 354,409 360,407.8 372,409.3 376,412.6 381.4,415 383.7,417 385,419 386.3,423 386.7,427 388.3,433 388.2,435 387.6,437 386,438.9 384,440 378,441.4 372,444.2 366,444.7 364,445.6 352,453.8 347.6,459 343.7,473 262,473 259.8,469 250,463.6 245.6,455 242,451.1 232,444.8 230,443.8 226,443.3 224,443.8 222,445.3 218,452.4 216,454.5 212,457 208.1,463 204.1,467 200,469 194,469.6 178,464.7 170,460 164,454.6 160,452.8 152,451 136,449.5 136,408.5 138,408.5ZM766,409 768,408.1 768,451 764,452 762.4,453 761.2,455 757,467 756.7,473 461.8,473 461.3,469 461.6,465 464,456.3 467.2,451 474,444 476,443.9 484,449 494,453.1 514,454.6 518,454 522,451.9 523.8,449 526.1,441 528,438.7 532,437.4 544,438.8 556,439.1 568,440.1 584,440.4 598,442 636,441.4 650,439.5 662,438.8 678,439.5 698,441.3 712,440.3 720,437.4 726,434 736,432.4 748,432.6 754,430.7 757.7,427 761,421 764.2,417 764.8,411 766,409ZM448,438.9 450,438.5 452,439.3 453.9,441 455,443 455.1,445 453.7,447 450,448.2 448,447.3 446,445.2 445.5,443 446,441.2 448,438.9Z"/>
<path fill="#ffc900" d="M356,408.9 362,408.2 370,409 372,409.7 376,413 382,416 384.4,419 385.2,421 386,427 387.2,431 387.4,435 386.6,437 384,439.4 376,441.8 372,443.9 366,444.5 364,445.3 360.8,447 352,453.3 348.3,457 347.1,459 343.3,473 262.9,473 262,470.6 260,468.2 250,462.9 246,455 242,450.6 232,444.2 222.9,441 222.2,439 223,435 224.5,431 225.9,429 228,427.7 230,427.5 234,428.3 240.7,431 248.3,437 252,439.2 262,442 268,441.7 276,440.1 278,439.2 284,434 286,433 294,431.2 300,431.9 314,437.4 326,436.8 331.5,435 334.8,433 341.7,423 349.5,413 352,410.7 356,408.9ZM138,409.9 148,410.1 152,411.6 158.1,415 162,418.7 165.2,423 170.3,435 178,443.1 182,445.6 198,451.8 204,452.5 206,451.7 209.9,445 212,443.2 216,442.6 218,443.3 219.2,445 218.2,449 216,451.7 208.4,455 206,461 203.1,465 198,467.9 194,468.4 188,467.3 178,464.1 170,459.4 164,454 160,452.2 152,450.3 136,448.9 136,409.9 138,409.9ZM768,409.6 768,450.2 764,451 761.3,453 756.7,465 756,469 756.1,473 463,473 462.3,471 462,467 462.5,463 465.5,455 468,451.6 474,445.3 476,444.9 478,445.5 484,449.5 494,453.5 514,455 518,454.5 522,452.7 524.4,449 526.9,441 528.9,439 532,438 542,439.2 556,439.6 566,440.5 584,440.8 598,442.3 636,441.7 650,439.8 662,439.2 678,439.9 698,441.8 712,441 720,438.3 726,434.9 736,433 748,433.3 754,431.6 757,429 762,421 764,418.9 765.2,417 766,411.6 768,409.6ZM450,440.4 452,441.3 453.2,443 453.2,445 452,446.5 450,447.1 447.3,445 446.9,443 448,441.1 450,440.4Z"/>
<path fill="#ffb400" d="M358,408.9 362,408.5 370,409.3 372,410 376,413.3 379.8,415 382,416.6 383.8,419 385.2,423 386.8,433 386.6,435 385.7,437 383.7,439 376,441.5 372,443.7 366,444.2 364,445 352,452.7 348,456.7 346.7,459 343,473 263.7,473 262,469.2 260,467.4 252,463.6 250,462.1 246,454.4 242,450.2 232,443.6 226.6,441 224.5,439 224.3,435 225.4,431 226.7,429 230,427.9 234,428.7 240.1,431 252,439.7 262,442.4 268,442.1 276,440.5 278,439.6 284,434.5 286,433.4 294,431.7 300,432.3 314,437.8 326,437.5 333.4,435 336,433.1 342.5,423 350.3,413 354,410.2 358,408.9ZM138,411.4 148,411.7 154,414.2 158,416.7 164,423.1 169.4,435 178,443.8 182,446.2 188,448.2 202,455 203.4,457 203.6,459 201.9,463 199.9,465 196,466.9 192,467.1 188,466.6 176.9,463 170.3,459 164,453.3 160,451.5 154,450 136,448.2 136,411.5 138,411.4ZM768,411.4 768,449.3 762.1,451 760.4,453 755.3,467 755.3,473 464.3,473 462.8,469 463.2,463 466,455.8 474,446.2 476,445.6 478,446.2 484,450 494,453.9 514,455.3 518,454.9 522.5,453 524.2,451 527.6,441 530,439.1 532,438.7 542,439.8 556,440.1 566,441 584,441.2 598,442.6 636,442.1 650,440.1 662,439.5 676,440.1 698,442.3 712,441.8 718,440.3 728,435.4 736,433.8 748,433.9 754,432.4 756,431.3 758,429 762,422.4 765,419 766.1,417 766.9,413 768,411.4ZM450,442.9 450,444.7 450,442.9ZM214,444.7 216,445.1 216.8,447 216,449 214,450.1 212,449.8 211.3,449 211.3,447 214,444.7Z"/>
<path fill="#ffa000" d="M362,408.9 370,409.7 372,410.4 376,413.7 381.8,417 383.2,419 384.7,423 385.9,431 385.8,435 384.9,437 382.7,439 376,441.2 372,443.4 366,443.9 364,444.7 352,452 348,456 346.2,459 342.6,473 293.4,473 292,470.8 289.9,471 288.2,473 264.4,473 262.6,469 260.5,467 257.1,465 252,463.1 250,461.2 246.8,455 244,451.6 240,448.3 228.6,441 226.2,439 225.4,437 226.2,431 227.6,429 230,428.3 233.9,429 240,431.3 252,440.1 262,442.8 268,442.5 276,440.8 278,439.9 286,433.9 294,432.1 300,432.7 310,436.2 314,438.2 324,438.3 328,437.6 334,435.6 337.2,433 343.4,423 352,412.2 356,410 362,408.9ZM138,413 144,412.9 148,413.5 154,415.9 158,418.5 164,425.1 168.6,435 178,444.5 182,446.8 188.6,449 198.7,455 200.4,457 200.9,459 200.4,461 199.2,463 196.5,465 194,465.8 190,466 186,465.4 178.2,463 176,461.8 171.3,459 164,452.6 160,450.8 154,449.3 136,447.5 136,413.2 138,413ZM768,413.7 768,448.4 762,450.2 759.5,453 754.9,465 754.2,469 754.5,473 474.8,473 474,471.5 472,471.2 468,473 466,472.7 463.7,469 463.9,463 466.2,457 474,447.1 476,446.3 478,446.8 485,451 494,454.2 514,455.7 519.5,455 523.4,453 524.9,451 528,441.6 530,439.8 532,439.3 540,440.2 556,440.7 566,441.5 584,441.6 598,442.9 636,442.4 650,440.4 662,439.8 676,440.5 698,442.8 714,442.5 720,440.7 726.7,437 734,434.9 742,434 748,434.6 754.6,433 758,430.3 762.5,423 766,419 767.2,417 768,413.7Z"/>
<path fill="#ff8a00" d="M356,410.6 362,409.3 370,410 372,410.7 376,414 381.2,417 382.6,419 384.1,423 385.3,431 385.1,435 384.1,437 381.8,439 376,440.9 372,443.2 366,443.6 364,444.3 354,449.7 352,451.3 348,455.3 346,458.5 342.2,473 294.5,473 293.6,471 292,470 290,470.1 288.4,471 287,473 265.2,473 262,467.4 258,464.8 252,462.4 250,460.3 245.9,453 242,449.4 228,439.3 226.6,437 226.9,431 228,429.5 230,428.7 232.6,429 240,431.6 252,440.5 262,443.2 268,442.9 276,441.2 278,440.3 286,434.3 294,432.6 300,433.1 308,435.8 314,438.7 324,438.8 328,438.3 332.6,437 336.4,435 338.3,433 344.2,423 350.2,415 352,413 356,410.6ZM138,414.7 144,414.6 148,415.3 154,417.7 158,420.3 162,424.2 163.9,427 168,435.5 174,440.7 178,445.2 182,447.5 188,449.4 196.5,455 198,457 198.5,459 198,461 196.5,463 192,465 186,464.7 176,461.1 172,458.8 164,451.8 160,450 154,448.5 136,446.8 136,415 138,414.7ZM768,417.6 768,447.5 762,449.3 760,450.9 758.7,453 753.9,465 753.4,469 753.7,473 475.5,473 474,470.6 472,470.2 468,471.1 466,470.7 464.8,469 464.5,467 464.7,463 467,457 474,447.8 476,446.9 478,447.5 484,451 494,454.6 514,456.1 520,455.3 524,453.2 525.5,451 528,442.8 530,440.6 532,439.9 542,440.9 568,442.1 582,441.9 600,443.2 636,442.7 650,440.6 662,440.1 676,440.9 698,443.3 716,443.3 720,442.2 728,437.7 736,435.2 742,434.5 750,435.1 756,433.2 758.4,431 763.4,423 768,417.6Z"/>
<path fill="#ff7200" d="M358,410.4 362,409.7 370,410.3 372,411.1 376,414.4 380.6,417 382.1,419 383.6,423 384.8,431 384.4,435 383.4,437 380.8,439 376,440.5 372,442.9 366,443.3 364,444 356,448 352,450.6 347.6,455 346,457.3 341.9,473 295.5,473 294.6,471 292,469.1 290,469.2 288,470.3 285.9,473 265.9,473 263.9,469 262,466.6 258,464.1 252,461.8 246,452.5 228.9,439 227.6,437 227.2,435 228,430.5 230,429.2 232,429.3 238,431.2 241.8,433 248,438.3 252,440.9 256,442.4 262,443.6 268,443.3 276,441.5 278,440.7 286,434.8 294,433.1 300,433.4 308,436.1 314,439.1 328,438.9 334,437.3 337.7,435 340,432 345,423 350.9,415 354,412.2 358,410.4ZM138,416.4 142,416.2 148,417.1 154,419.5 158,422.1 162.7,427 165.6,433 168,436.7 174,441.5 178,446 182,448.2 188,450.1 194.8,455 196.2,457 196.5,459 195.9,461 194,462.8 192,463.7 186,463.9 178,461.4 173.5,459 170.8,457 166,452.2 162,450 154,447.8 136,446.1 136,416.7 138,416.4ZM768,419.4 768,446.6 762,448.4 759.1,451 755.2,459 753,465 752.5,469 752.9,473 476.2,473 474,469.9 472,469.3 468,469.6 466,468.6 465.6,467 465.5,463 467.9,457 473.5,449 476,447.6 478,448.1 484,451.5 493.9,455 514,456.4 520,455.8 524,453.9 526.2,451 528.6,443 530,441.3 532,440.5 540,441.4 566,442.5 580,442.2 602,443.5 636,443.1 652,440.7 664,440.5 676,441.3 698,443.8 718,444.5 722,443.2 728,438.9 736,436 742,435.1 750,435.8 756,434 758,432.6 764,423.5 768,419.4Z"/>
<path fill="#ff5b00" d="M358,411 362,410.1 370,410.6 380,417 381.5,419 383.1,423 384.2,431 383.7,435 382.7,437 380,438.9 376,440.2 372,442.5 364,443.6 354,448.3 352,449.7 346.8,455 345.6,457 341.5,473 296.4,473 294,469.5 292,468.5 290,468.6 288,469.4 286,471 284.9,473 266.7,473 264.6,469 262,465.8 260,464.4 251.9,461 246,451.8 232.2,441 228.6,437 228,435 228.4,431 230,429.8 234,430.3 241.2,433 252,441.4 256,442.8 262,443.9 268,443.6 276,441.9 278.1,441 286,435.2 296,433.3 300,433.8 308,436.4 314,439.4 326,439.7 330,439.2 336,437.2 339,435 345.8,423 350,417 353.8,413 358,411ZM138,418.2 142,417.9 148,419 154,421.4 158,423.9 162,427.8 167.1,437 174,442.3 178,446.8 180,448.1 188,450.9 193.1,455 194.5,457 194.7,459 193.7,461 190,463.1 185.1,463 179,461 174,458.5 171.8,457 166,451.2 160,448.4 154,447 136,445.4 136,418.6 138,418.2ZM768,420.7 768,445.6 762,447.6 760,448.8 758.2,451 754.2,459 752.1,465 751.6,469 752,473 476.6,473 475.9,471 474,469.2 468,467.8 467.1,467 466.4,465 466.8,461 468,458.3 474,449.3 476,448.2 478,448.7 484,452 494,455.4 512,456.7 518,456.6 522,455.7 525.8,453 526.9,451 529.3,443 532,441.2 566,443 580,442.6 602,443.8 636,443.4 652,441 664,440.8 720,446.2 722,445.6 728,440.3 736,436.8 742,435.6 750,436.5 756,434.8 758.6,433 764,424.7 768,420.7Z"/>
<path fill="#ff4300" d="M360,410.9 370,410.9 379.3,417 381.9,421 383.1,425 383.7,431 383.1,435 381.9,437 380,438.4 376,439.8 372,442.1 364,443.3 354,447.5 351.8,449 346.1,455 344.9,457 341,473 297.2,473 296.2,471 294.3,469 292,468 290,468 286,470 283.8,473 267.5,473 264,467.3 262,465.1 260,463.7 252,460.2 246,451.2 233,441 229.6,437 228.9,435 228.7,433 229.3,431 232,430.3 234,430.7 240.6,433 252,441.9 262,444.3 268,444 276,442.3 278.6,441 286,435.7 296,433.8 300,434.2 308,436.7 314,439.8 326,440.2 330,439.8 336,438.2 340,435.4 347.8,421 352,415.4 354.8,413 360,410.9ZM138,420 142,419.7 146,420.3 154,423.2 158,425.6 161.4,429 164.5,435 167.9,439 173.7,443 178,447.8 182,449.7 186.8,451 191.5,455 192.8,457 192.8,459 192,460.2 190,461.7 188,462.3 186,462.3 181.3,461 173.1,457 166,450.1 162,448 158,446.8 154,446 136,444.7 136,420.4 138,420ZM768,421.8 768,444.6 760,447.8 757.3,451 753.2,459 751.2,465 750.6,469 751.1,473 477,473 476,470.4 474,468.5 469.6,467 468,465.7 467.3,463 468.5,459 474,450.5 476,448.8 484,452.5 494,455.7 512,457 518.6,457 522,456.3 526,453.8 527.7,451 530,443.1 532,441.9 568,443.6 578,443 596,444 622,444.1 638,443.6 652,441.3 664,441.1 688,443.3 714,446.4 720,447.8 722,447.8 724,447 728.9,441 737.8,437 742,436.2 750,437.2 754,436.4 757.2,435 759.6,433 764.8,425 768,421.8Z"/>
<path fill="#ff2b00" d="M362,411 370,411.3 378.7,417 380,418.5 382,422.6 383,427 383.1,431 382.4,435 381.2,437 380,437.9 372,441.8 364,442.9 354,446.6 350.6,449 346,454 344.3,457 340.6,473 298,473 297,471 295,469 292,467.5 290,467.4 285.9,469 283.9,471 282.8,473 268.3,473 264,466.4 262,464.2 252,459.3 246.7,451 235.9,443 232.1,439 229.7,435 229.5,433 230,431.6 230.8,431 232,430.8 238,432.3 242,434.4 252,442.5 262,444.7 268,444.4 276,442.6 279.1,441 286,436.1 296,434.2 300,434.5 308,437 314,440.2 326,440.7 332,440.2 336.3,439 340,437 342,434.6 348.5,421 352,416.3 356,413 362,411ZM138,421.8 142,421.4 146,422.1 153.9,425 158,427.5 160,429.2 163.2,435 166.2,439 172,442.6 178,448.8 180,450 186,451.6 188.1,453 191.1,457 190.8,459 188.4,461 186,461.3 179.1,459 174,456.5 166,448.7 158,445.6 136,443.8 136,422.3 138,421.8ZM768,422.9 768,443.5 762,445.6 760,446.7 757.6,449 753,457 751.4,461 749.8,467 750.2,473 477.4,473 476,469.7 474,467.9 470,465.9 469,465 468.3,463 469.4,459 476,449.8 483.9,453 494,456.1 514,457.4 522,456.9 525.8,455 527.6,453 530,444.8 532,442.7 568,444 580,443.4 596,444.3 624,444.4 638,443.9 652,441.5 664,441.4 688,443.7 714,447.2 720,449.2 724,449.4 726,448.3 728.7,443 730,441.7 736,438.6 742,436.7 748,437.9 752,437.8 758,435.5 760.6,433 766,424.7 768,422.9Z"/>
<path fill="#ff1200" d="M358,412.8 362,411.6 370,411.7 378,417 380.9,421 382.2,425 382.7,429 381.8,435 380,437.4 372,441.4 364,442.5 354,445.7 350,448.2 346,452.8 344,456.2 340.2,473 298.6,473 297.7,471 295.8,469 292.1,467 290,466.9 288,467.2 284.7,469 281.8,473 269.2,473 264,465.5 262,463.4 254,459.9 252,458.4 247.5,451 236.5,443 232.9,439 230.6,435 230.5,433 232,431.7 238,432.7 242,434.9 252,443 258,444.6 262,445 270,444.5 276,443 286,436.5 288,435.8 296,434.6 300,434.9 308,437.3 314,440.5 316,440.9 328,441.2 334,440.6 339.2,439 341.9,437 349.2,421 354,415 358,412.8ZM138,423.6 142,423 146,423.8 152,426 157.3,429 160,431.9 166,440.8 172,444.2 178,450.3 180,451.4 186,452.8 188,454.6 189.2,457 188.6,459 186,460.1 184,459.7 174,455.1 168,448.4 164,445.8 156,443.9 148,444 136,443 136,424.1 138,423.6ZM768,424.2 768,442.3 760,445.5 756.5,449 750.9,459 748.8,467 749.4,473 477.8,473 476,469 470.4,465 469.3,463 469.4,461 470.3,459 476,451 478,451.2 482.3,453 494,456.4 516,457.8 523.4,457 527,455 528,453.8 529.4,451 531.1,445 532,443.8 534,443.5 568,444.5 580,443.8 594,444.6 626,444.8 638,444.2 652,441.8 664,441.7 688,444 712,447.6 722,450.9 726,451.4 728,449.9 730.3,443 732.7,441 742,437.3 748,438.6 752,438.7 758,436.4 760,434.9 766,426.2 768,424.2Z"/>
<path fill="#ff0e0b" d="M360,412.8 364,412 370,412.1 378,417.6 380.4,421 382.2,427 382.1,431 381.2,435 379.8,437 372,441 370,441.7 366,441.7 353,445 349.3,447 343.8,455 339.8,473 299.2,473 298.3,471 294,467.3 290,466.4 286.9,467 284,468.7 281.9,471 281,473 270.1,473 262.4,463 253.7,459 250.1,455 248,450.5 237.1,443 233.6,439 231.5,435 232,432.8 234,432.4 238,433.1 242,435.3 250,442.3 252,443.5 260,445.2 268,445.2 274,443.9 278,442.4 284,437.9 288,436.2 296,435 300,435.2 308,437.5 314.7,441 328,441.7 336.5,441 342.3,439 344,436.6 348.7,423 351.1,419 356,414.2 360,412.8ZM140,424.7 144,424.8 148,426 152,427.9 156.7,431 162.5,439 163.2,441 162,442.8 154,442.4 148,442.9 136,442 136,425.6 140,424.7ZM768,425.7 768,441.1 762,443.2 758,445.4 756,447.8 751.6,455 749.6,459 748.2,465 747.9,469 748.6,473 478.1,473 476,468.4 471.8,465 470.3,463 470.3,461 471.2,459 476,452.5 478,452.1 494,456.8 520,458.1 525.1,457 528.3,455 529.6,453 532,445.6 532.7,445 544,444.2 568,445 580,444.1 590,444.8 626,445.1 638,444.5 652,442 664,441.9 688,444.4 712,448.2 716,449.3 725.3,453 728,453.3 729,453 730.3,451 730.8,445 731.9,443 734,441.5 742,437.9 744,438 750,439.6 754,439.3 756,438.4 760,436.1 768,425.7ZM172,447.1 174.4,449 177.5,453 176,453.4 174,452.5 172.4,451 171.1,449 172,447.1ZM180,454.5 184,454 186.3,455 187.2,457 186,458.3 184,458.1 179.4,455 180,454.5Z"/>
<path fill="#ff1f22" d="M362,412.9 366,412.3 370,412.5 378.8,419 380.8,423 381.7,427 381.6,431 380.7,435 379,437 371,441 366,441.3 360,443 352,444.2 348,445.9 343.1,455 339.4,473 299.8,473 298.8,471 294.3,467 290,466 286,466.7 284,467.9 282,469.8 280.1,473 271,473 263.2,463 260.2,461 254,458.5 250.7,455 248,449.4 237.7,443 234.3,439 232.4,435 234,433.1 236,433.1 240,434.3 250,442.9 252,444.1 260,445.5 268,445.5 272,444.8 278,442.7 286,437.3 290,436.1 296,435.3 300,435.5 308,437.8 313.6,441 316,441.4 330,442.2 342,441.3 344,440.4 344.7,439 347.2,429 349.4,423 351.8,419 356,414.8 362,412.9ZM138,426.3 142,425.8 144,426 150.9,429 155.9,433 160,439.3 158,440.5 148,441.8 136,441 136,426.8 138,426.3ZM768,427.6 768,440.1 762,441.8 758,443.8 756,445.7 753.1,451 748.9,457 747.2,465 747.9,473 478.4,473 476,467.9 471.1,463 471.1,461 472.1,459 476,453.7 478,452.9 494,457.1 516,458.5 522,458.3 526.7,457 529.5,455 530.7,453 532.8,447 534,445.9 544,444.7 568,445.3 580,444.5 590,445.1 626,445.5 638,444.9 652,442.3 664,442.2 688,444.8 712,448.9 716,449.8 722.6,453 726,454 730,454.4 732,453 732.1,445 734,442.6 742,438.6 744,438.6 748,440 752,440.7 756,439.7 760,437.5 768,427.6Z"/>
<path fill="#ff3136" d="M364,413 370,412.9 378.3,419 380.3,423 381.4,427 381.2,431 380.1,435 378.2,437 370,441 366,441 356,442.9 350,442.9 347.4,441 346.6,437 347.5,431 350,423 352.4,419 356,415.4 358,414.4 364,413ZM140,427 144,427.2 148.2,429 152.7,433 154,435 154.6,437 152.8,439 148,440.6 142,440.9 136,440 136,428 140,427ZM768,429.7 768,439 764,439.8 762,439.7 760.9,439 764,433.5 768,429.7ZM234,434.1 236,433.7 240,434.7 245.4,439 250,443.6 254,445.1 258,445.7 268,445.8 272,445.2 278,443.1 286,437.6 290,436.5 298,435.5 308,438 314,441.4 338,442.9 342,443.5 344.5,445 344.9,447 342,456.6 339.1,473 300.3,473 299.4,471 294.9,467 290,465.6 286,466.2 284,467.2 281.9,469 279.2,473 271.9,473 268,468.8 264,463.1 262,461.3 256,459 252,456 248.6,449 242,445.5 236.3,441 233.7,437 233.3,435 234,434.1ZM740,440.2 742,439.3 744,439.2 755,443 752,450.6 747.1,457 746.3,465 747.4,473 478.7,473 478,470.6 476,467.3 472,463 471.8,461 476,454.6 478,453.5 494,457.3 518,459 524,458.5 528.3,457 530.8,455 533.2,449 534.6,447 542,445.4 568,445.7 580,444.8 588,445.4 626,445.8 639.3,445 654,442.5 664,442.5 690,445.4 708,449 714,449.7 726,454.9 730,455.7 733.4,455 734.5,453 733.2,447 733.5,445 735.3,443 740,440.2Z"/>
<path fill="#ff4247" d="M358,415 366,413.1 370,413.4 377.7,419 379.9,423 381,427 380.3,433 379.5,435 378,436.5 370,440.5 366,440.6 356,442.2 352,441.8 350,440.9 348.6,439 347.8,435 350,425 351.6,421 352.9,419 356,416 358,415ZM138,428.6 142,428.1 146,429.3 148.4,431 149.9,433 150.6,435 150.4,437 148,439 144,439.8 140,439.8 136,438.9 136,429.2 138,428.6ZM766,432.8 768,431.9 768,437.6 766,438.2 764,437.7 763.6,437 764.2,435 766,432.8ZM236,434.2 240,435.2 244.9,439 250,444.3 254,445.7 266,446.2 272,445.5 278,443.4 286,438 290,436.9 298,435.8 308,438.3 314,441.6 336,443.7 340,444.8 342.5,447 342.9,449 338.7,473 300.8,473 299.9,471 295.5,467 294,466.1 290,465.1 286,465.6 284,466.5 281.2,469 278.3,473 273.2,473 268.7,469 264,462.3 262,460.7 254,457.2 252,455.3 250.8,453 249.7,449 242,445.1 236.8,441 234.3,437 234.2,435 236,434.2ZM742,440.3 744,440.2 746.4,441 750.4,443 752.2,445 752,447.1 750,450.7 745.4,455 744,457 744,459 746.8,473 479,473 477.5,469 472.7,463 472.5,461 476,455.5 478,454.1 494,457.6 518,459.3 526,458.6 530.1,457 532.3,455 534.6,449 536,447.7 538,446.8 544,445.6 568,446 580,445.1 626,446.1 640,445.2 654,442.7 664,442.8 690,445.7 706,449.1 714,450.1 726,455.5 730,456.7 734,457 736,456.6 738.2,455 734.9,447 735.3,445 737.4,443 742,440.3Z"/>
<path fill="#ff5459" d="M360,414.8 366,413.6 370,413.9 377.1,419 379.4,423 380.6,427 379.8,433 378,435.9 370,440.1 366,440.2 360,441.3 354,441.2 352,440.5 350.3,439 349.3,437 348.9,433 351.2,423 353.5,419 355.5,417 360,414.8ZM138,429.8 142,429.2 146.2,431 147.8,433 148.2,435 147.4,437 144,438.7 142,438.9 136,437.5 136,430.5 138,429.8ZM236,434.7 238,434.8 242,436.9 250,444.9 252,446.1 268,446.5 272,445.9 278,443.7 286,438.3 298,436.1 308,438.6 314,441.9 324,442.7 337.1,445 340.2,447 341.3,449 341.5,451 339.6,467 338.3,473 301.2,473 300,470.6 296,467 294,465.7 290,464.7 286.3,465 284,465.8 282,467.3 278,472.3 276.4,473 274,472.7 270,469.8 263.4,461 256,457.8 252.5,455 251.4,453 250,447.9 244,445.6 238,441.7 235,437 235.4,435 236,434.7ZM654,443 664,443 676,444.1 690,446 708,449.8 714,450.6 728,456.8 740,459.9 742,461.3 744,464.1 746.3,473 479.3,473 477.8,469 473.4,463 473.1,461 476,456.3 478,454.7 480,454.7 494,457.8 520,459.7 527.3,459 532,457.1 534,455.1 536.2,449 539.6,447 544,446.1 566,446.4 580,445.4 606,446.2 616,445.8 626,446.4 640,445.4 654,443ZM740,442.7 742,441.4 744,441.2 747.5,443 749.5,445 749.8,447 748.8,449 746,451.4 744,452.2 742,452.2 740,451.2 738,449 737.2,447 737.6,445 740,442.7Z"/>
<path fill="#ff656a" d="M362,414.8 366,414 370,414.3 376.5,419 378.9,423 380.2,427 379.3,433 378,435.3 370,439.7 358,440.8 354,440.1 351.9,439 350.5,437 349.9,435 350.1,431 351.8,423 354,419.1 356,417.2 362,414.8ZM140,430.6 143.5,431 145.7,433 146.1,435 144.5,437 140,437.5 136,435.9 136,432.1 140,430.6ZM236,436.1 238,435.5 242,437.4 245.7,441 248.6,445 248,445.7 246,445.7 240,443 237.8,441 236.6,439 235.7,437 236,436.1ZM294,436.9 300,436.6 308,438.8 314,442.1 324,443 332,444.5 336,445.7 338.2,447 339.8,449 340.4,453 339.1,467 337.8,473 301.7,473 300,470.1 296,466.6 292,464.7 288,464.3 284.5,465 282,466.5 278,471.2 276,472.2 274,471.9 270,469.1 264,460.7 262,459.4 255.7,457 253.2,455 252,453 251.5,449 252,447 268,446.8 272,446.2 278,444 286,438.6 294,436.9ZM644,444.8 652,443.3 664,443.3 688,445.9 708,450.2 714,451 721.9,455 730,458.3 736,459.8 740,461.8 742,463.4 744,466.5 745.9,473 479.6,473 478,468.6 474,463 473.8,461 476,457 478,455.3 480,455.1 494,458.1 502,458.3 520,460 528,459.6 532,458.4 534.3,457 535.6,455 536.4,451 537.7,449 541.6,447 544,446.5 566,446.7 580,445.7 606,446.5 616,446 626,446.7 640,445.6 644,444.8ZM742,443.5 744,443 746.5,445 746.6,447 744,449.1 742,448.9 740.2,447 740.4,445 742,443.5Z"/>
<path fill="#ff7a7e" d="M364,414.8 368,414.3 370,414.8 376,419.1 378,421.9 379.7,427 378.7,433 377.6,435 376,436.1 370,439.2 358,440 354,439.1 351.8,437 350.8,433 352.4,423 354,420 356,417.9 358,416.6 364,414.8ZM140,432.3 142,432.2 143.4,433 143.7,435 142,436 138.3,435 138.3,433 140,432.3ZM238,436.3 240,436.7 243.2,439 246.1,443 246,444 242,443.5 238.4,441 237.2,439 236.8,437 238,436.3ZM296,436.8 300,436.9 307.7,439 314,442.4 324,443.3 330,444.6 336.4,447 338.3,449 339.6,453 338.7,467 337.3,473 302.2,473 300,469.5 296,466.2 292,464.3 288,463.8 284,464.5 282,465.8 278,470.2 276,471.3 274,471.1 270,468.4 266,462 264,459.9 256,456.5 254,455 252.7,453 252.3,449 254,447.4 268,447.1 272,446.6 278,444.4 286,439 296,436.8ZM646,444.6 654,443.4 664,443.5 676,444.6 688,446.2 708,450.6 714,451.4 720.9,455 730,459 736,460.9 740,463.2 742,464.8 743.5,467 745.4,473 479.9,473 478,467.9 474.6,463 474.4,461 476.7,457 478,455.9 480,455.6 494,458.3 504,458.7 520,460.4 530,460 533.9,459 536,457.3 537.6,451 539,449 544,447 566,447.1 580,446 606,446.7 616,446.2 626,447 640,445.9 646,444.6Z"/>
<path fill="#ff9395" d="M366,414.9 370,415.3 375.2,419 376.9,421 379.2,427 378.2,433 376,435.6 370,438.7 360,439.3 356,438.8 353.1,437 352,435 351.8,431 353,423 355.5,419 358,417.2 366,414.9ZM298,436.9 308,439.4 314,442.6 324,443.7 329.9,445 334,446.6 336,448 338.2,451 338.9,455 338.2,467 336.8,473 302.7,473 300,469 296,465.8 292,463.9 288,463.4 284,463.8 282,465 278,469.3 276,470.5 274,470.4 272,469.5 270,467.7 266.1,461 264,459.1 256,455.7 253.4,453 252.9,451 253.2,449 254,448.3 260,447.4 268,447.5 272,446.9 278,444.7 286.9,439 298,436.9ZM238,438 240,437.4 242,438.5 244.2,441 244.3,443 242,442.9 240,441.8 237.9,439 238,438ZM646,444.8 654,443.7 664,443.7 676,444.9 688,446.4 708,451 714,451.7 720,455 736,461.7 740,464.2 742.8,467 745,473 480.2,473 478,467.2 475.2,463 474.9,461 475.7,459 477.3,457 480,456.1 494,458.5 504,459 520,460.8 528,461.1 534,460.3 536.6,459 537.7,457 538.7,451 540,449.3 542,448.1 546,447.3 566,447.4 580,446.3 588,446.7 600,446.5 606,447 616,446.4 626,447.3 640,446.1 646,444.8Z"/>
<path fill="#ffffff" d="M360,416.9 368,415.2 372,417.1 376,420.5 378,424.2 378.7,427 378,432 376,435 372,437.4 368,438.4 358,438.3 356,437.8 354,436.5 352.6,433 353.6,423 356,419.2 360,416.9ZM240,438.3 242,439 243.2,441 242,441.9 240,441.2 239,439 240,438.3ZM288,438.9 296,437.5 300,437.5 308,439.8 312,442.2 314,442.9 324,444 330,445.5 333.4,447 335.8,449 337.1,451 338.2,455 337.7,467 336.2,473 303.2,473 300.5,469 296,465.4 292,463.6 288,462.9 284,463.1 282,464.1 277,469 276,469.7 274,469.7 272,468.8 270.1,467 266.9,461 265.2,459 256,455 254.2,453 253.6,451 254,449.5 256,448.3 262,447.6 268,447.9 272,447.4 278,445 284,440.9 288,438.9ZM648,444.7 652,444 662,443.9 674.8,445 688,446.7 708,451.3 714,452.1 738,463.7 742,466.9 744.6,473 480.5,473 478.3,467 475.8,463 475.5,461 476.3,459 478,457 480,456.6 494,458.8 501.4,459 526,461.7 536,461.3 538,460 538.6,459 539.7,451 542,448.8 546,447.8 566,447.7 580,446.6 588,447 600,446.7 606,447.3 616,446.6 626,447.6 640,446.3 648,444.7Z"/></g></g>
<clipPath id="pc"><rect x="136" y="157" width="632" height="316"/></clipPath><g clip-path="url(#pc)"><path fill="#fff" stroke="#fff" stroke-width="0.6" stroke-linejoin="round" d="M629.8,311.9 619.8,314.9 613.2,320.7 607.4,329.0 604.0,339.8 603.2,348.1 604.9,358.0 607.4,366.3 606.9,376.3 605.7,386.2 601.6,394.5 593.0,403.2 591.1,408.2 593.0,413.2 600.5,417.0 609.2,418.9 606.8,422.0 609.2,425.8 629.2,426.4 631.1,425.1 624.2,420.1 619.2,418.9 635.5,418.2 644.2,420.1 666.8,420.8 669.2,418.9 663.0,415.8 653.0,412.0 641.8,408.2 635.5,402.0 631.8,395.8 629.8,387.9 626.4,381.3 621.5,374.6 619.8,370.5 629.8,371.6 639.7,373.3 649.7,373.0 659.6,371.3 672.9,371.6 684.5,371.3 692.8,368.0 699.4,363.0 703.5,357.2 704.0,349.8 701.9,341.5 696.1,334.8 686.1,328.2 674.5,323.2 662.9,319.1 651.3,315.8 639.7,312.9ZM290.6,394.6 293.1,388.0 298.0,381.4 306.3,376.4 314.6,373.9 322.9,374.7 331.2,378.9 337.0,384.7 332.9,388.0 322.9,391.3 314.6,395.5 306.3,400.4 298.0,402.9 293.1,400.4Z"/><path d="M136,393 144,392.7 150,393.6 156,395.7 168,401.9 172.4,405 176.5,409 179.2,413 184,422 186,423.1 188,422.4 192,418.7 196,417.3 198,417.7 204,420.3 206,420.7 212,421 218,422 228,422.3 238,425.4 252,433.4 260,436 264,436.7 272,436 276,435.1 278,433.6 282,429.4 284,428.2 288,426.6 294,425.3 298,426 310,430.2M343.4,407 345.6,405 348,404 356,402.5 362,403.1 369.8,405 374,405.3 378,408.2 380,408.6 382,407.7 383.3,407 385.3,403 388,402.1 390,402 396,393.5 400.3,389 402.2,385 404.8,377 408,371.6 410,369.8 414,367.9 420,367.5 426,368.9 432,371.4 440,376.8 446,382.2 450.2,387 456.6,397 460.4,407 463.3,417 465.7,423 468,426.7 486.5,443 489.6,445 494,447 498,448.2 508,449.7 512,449.8 515.2,449 516.7,447 517.2,445 516.9,441 515.9,437 516.1,435 522,425.4 524,424.4 526,424.2 532,426.1 537.6,429 544,431.2 550,431.1 556,432.5 562,432.6 576,434.1 596,438 606,438.1M656,435.3 660,434.8 682,434.8 696,435.6 704,434.9 712,432.9 724,426.3 732,424.9 740,425.1 746,424.2 748,422.8 748.9,421 749.2,419 748.8,415 746.7,407 746.8,405 748.3,401 749.8,399 752,397.2 756,395.3 762,393.7 768,393.1M768,466.1 766,468.1 764.6,471 764.3,473M183.6,473 182,471.9 172,467.9 162,460.1 148,457.1 142,457 136,458.2M409.5,473 406,468.2 404,466.6 402,466.1 400,467.4 396,471.2 394,472.2 390,472.7 388,472.2 386,470.1 377.9,459 377.7,457 379.9,453 380.6,451 380.6,449 380,446.6 378,445.7 372,447.1 368,447.4 364.4,449 360,454.7 356,457.2 352,461 350.1,465 348.3,473M451.6,473 454,469 455.3,465 455.8,459 454.6,457 452,455.8 446,454.4 443.1,453 440.4,451 438.7,449 436,442.1 432,434.7 430,431.8 428,430.3 422,428.1 410,427 407.6,429 406.7,433 406.5,437 407.8,449 409.6,453 411.5,455 414,456.1 428,460.1 430,462 432,465 436,467.9 439.4,473M220,344.9 224,343.6 228,343.5 232,344.8 234.9,347 238,351.9 240,357.2 240.9,363 240.8,365 239.8,367 238,367.9 236,368.1 232,366.7 224.4,361 215.5,353 214.8,351 215.4,349 217,347 220,344.9M394,405 392.1,407 393.2,411 396,414 398,414.7 400,414.2 400.8,413 400.9,411 400.2,409 398,407 394,405M184,428.7 182,429.2 180,431 179.4,433 180.1,435 186,439 190,441.1 196,441 197.8,439 198.3,437 198,434.9 196,433.6 192,434 188,433 184,428.7M394,452.9 395,455 396,455.4 396.8,455 398.1,453 396,451.5 394,452.9M236,453.9 234,455 234,457 236,459.7 238,460.9 240,460.8 241.4,459 241.1,457 240,455 236,453.9M597.1,473 600,465.8 602,464.2 604.6,463 608,462.5 618,463.2 630,462.2 637.1,463 642,464.4 646,466.8 654.4,473" fill="none" stroke="#000" stroke-width="2" stroke-linejoin="round" stroke-linecap="round"/>
<path d="M495.8,473 496,470.4 498,469.9 502,469.8 508,468.6 510.6,469 514.2,473M552.8,473 559.7,465 564.9,461 568.4,459 574,457.7 582,455 600,452.3 616,452 638,452.9 648,452.2 656,452.8 666,451.8 678,452.1 688,454.2 694,456 702,457 716,460.7 723.7,465 728,468.3 732,470.4 734.4,473" fill="none" stroke="#000" stroke-width="1.2"/><path d="M291.5,449.5 295.2,447 300.2,450.7 302.8,454.5 299,455.1 292.8,452.6ZM309,450.8 312.8,448.9 319,451.4 323.4,457 322.8,462.6 317.8,463.2 311.5,458.2Z" fill="none" stroke="#000" stroke-width="1.2"/><g font-size="18" fill="#000"><text transform="translate(612.1,443.6) rotate(-2.85)" x="0 11 17.1 28.1">0.00</text> <text transform="translate(314.2,434.3) rotate(-30)" x="0 11.1 16.3 28">0.00</text></g></g>
<rect x="136" y="157" width="632" height="316" fill="none" stroke="#000" stroke-width="2"/>
<g fill="#000" shape-rendering="crispEdges"><rect x="160" y="468" width="1" height="5"/><rect x="160" y="157" width="1" height="5"/><rect x="184" y="463" width="2" height="10"/><rect x="184" y="157" width="2" height="10"/><rect x="211" y="468" width="1" height="5"/><rect x="211" y="157" width="1" height="5"/><rect x="235" y="463" width="2" height="10"/><rect x="235" y="157" width="2" height="10"/><rect x="261" y="468" width="1" height="5"/><rect x="261" y="157" width="1" height="5"/><rect x="286" y="463" width="2" height="10"/><rect x="286" y="157" width="2" height="10"/><rect x="312" y="468" width="1" height="5"/><rect x="312" y="157" width="1" height="5"/><rect x="337" y="463" width="2" height="10"/><rect x="337" y="157" width="2" height="10"/><rect x="363" y="468" width="1" height="5"/><rect x="363" y="157" width="1" height="5"/><rect x="387" y="463" width="2" height="10"/><rect x="387" y="157" width="2" height="10"/><rect x="414" y="468" width="1" height="5"/><rect x="414" y="157" width="1" height="5"/><rect x="438" y="463" width="2" height="10"/><rect x="438" y="157" width="2" height="10"/><rect x="465" y="468" width="1" height="5"/><rect x="465" y="157" width="1" height="5"/><rect x="489" y="463" width="2" height="10"/><rect x="489" y="157" width="2" height="10"/><rect x="516" y="468" width="1" height="5"/><rect x="516" y="157" width="1" height="5"/><rect x="540" y="463" width="2" height="10"/><rect x="540" y="157" width="2" height="10"/><rect x="566" y="468" width="1" height="5"/><rect x="566" y="157" width="1" height="5"/><rect x="591" y="463" width="2" height="10"/><rect x="591" y="157" width="2" height="10"/><rect x="617" y="468" width="1" height="5"/><rect x="617" y="157" width="1" height="5"/><rect x="642" y="463" width="2" height="10"/><rect x="642" y="157" width="2" height="10"/><rect x="668" y="468" width="1" height="5"/><rect x="668" y="157" width="1" height="5"/><rect x="692" y="463" width="2" height="10"/><rect x="692" y="157" width="2" height="10"/><rect x="719" y="468" width="1" height="5"/><rect x="719" y="157" width="1" height="5"/><rect x="743" y="463" width="2" height="10"/><rect x="743" y="157" width="2" height="10"/><rect x="136" y="459" width="5" height="1"/><rect x="763" y="459" width="5" height="1"/><rect x="136" y="443" width="5" height="1"/><rect x="763" y="443" width="5" height="1"/><rect x="136" y="427" width="5" height="1"/><rect x="763" y="427" width="5" height="1"/><rect x="136" y="411" width="5" height="1"/><rect x="763" y="411" width="5" height="1"/><rect x="136" y="394" width="9" height="2"/><rect x="759" y="394" width="9" height="2"/><rect x="136" y="379" width="5" height="1"/><rect x="763" y="379" width="5" height="1"/><rect x="136" y="363" width="5" height="1"/><rect x="763" y="363" width="5" height="1"/><rect x="136" y="347" width="5" height="1"/><rect x="763" y="347" width="5" height="1"/><rect x="136" y="331" width="5" height="1"/><rect x="763" y="331" width="5" height="1"/><rect x="136" y="314" width="9" height="2"/><rect x="759" y="314" width="9" height="2"/><rect x="136" y="299" width="5" height="1"/><rect x="763" y="299" width="5" height="1"/><rect x="136" y="283" width="5" height="1"/><rect x="763" y="283" width="5" height="1"/><rect x="136" y="267" width="5" height="1"/><rect x="763" y="267" width="5" height="1"/><rect x="136" y="251" width="5" height="1"/><rect x="763" y="251" width="5" height="1"/><rect x="136" y="234" width="9" height="2"/><rect x="759" y="234" width="9" height="2"/><rect x="136" y="219" width="5" height="1"/><rect x="763" y="219" width="5" height="1"/><rect x="136" y="203" width="5" height="1"/><rect x="763" y="203" width="5" height="1"/><rect x="136" y="187" width="5" height="1"/><rect x="763" y="187" width="5" height="1"/><rect x="136" y="171" width="5" height="1"/><rect x="763" y="171" width="5" height="1"/></g>
<g shape-rendering="crispEdges"><rect x="784" y="468.48" width="18" height="4.82" fill="#9100a2"/><rect x="784" y="463.97" width="18" height="4.82" fill="#7d00a8"/><rect x="784" y="459.45" width="18" height="4.82" fill="#3e0092"/><rect x="784" y="454.93" width="18" height="4.82" fill="#2c00a0"/><rect x="784" y="450.42" width="18" height="4.82" fill="#1b00ae"/><rect x="784" y="445.90" width="18" height="4.82" fill="#0900bc"/><rect x="784" y="441.38" width="18" height="4.82" fill="#0000cf"/><rect x="784" y="436.87" width="18" height="4.82" fill="#0000e9"/><rect x="784" y="432.35" width="18" height="4.82" fill="#0009f8"/><rect x="784" y="427.83" width="18" height="4.82" fill="#001afc"/><rect x="784" y="423.32" width="18" height="4.82" fill="#002eff"/><rect x="784" y="418.80" width="18" height="4.82" fill="#0045ff"/><rect x="784" y="414.28" width="18" height="4.82" fill="#005bff"/><rect x="784" y="409.77" width="18" height="4.82" fill="#0072ff"/><rect x="784" y="405.25" width="18" height="4.82" fill="#0087ff"/><rect x="784" y="400.73" width="18" height="4.82" fill="#009bff"/><rect x="784" y="396.22" width="18" height="4.82" fill="#00afff"/><rect x="784" y="391.70" width="18" height="4.82" fill="#00c3ff"/><rect x="784" y="387.18" width="18" height="4.82" fill="#00dcff"/><rect x="784" y="382.67" width="18" height="4.82" fill="#00faff"/><rect x="784" y="378.15" width="18" height="4.82" fill="#00fce5"/><rect x="784" y="373.63" width="18" height="4.82" fill="#00fecb"/><rect x="784" y="369.12" width="18" height="4.82" fill="#00ffb2"/><rect x="784" y="364.60" width="18" height="4.82" fill="#00ff98"/><rect x="784" y="360.08" width="18" height="4.82" fill="#00ff7f"/><rect x="784" y="355.57" width="18" height="4.82" fill="#00ff66"/><rect x="784" y="351.05" width="18" height="4.82" fill="#00ff4f"/><rect x="784" y="346.53" width="18" height="4.82" fill="#00ff38"/><rect x="784" y="342.02" width="18" height="4.82" fill="#00ff22"/><rect x="784" y="337.50" width="18" height="4.82" fill="#00ff0b"/><rect x="784" y="332.98" width="18" height="4.82" fill="#0cff00"/><rect x="784" y="328.47" width="18" height="4.82" fill="#24ff00"/><rect x="784" y="323.95" width="18" height="4.82" fill="#3bff00"/><rect x="784" y="319.43" width="18" height="4.82" fill="#53ff00"/><rect x="784" y="314.92" width="18" height="4.82" fill="#6aff00"/><rect x="784" y="310.40" width="18" height="4.82" fill="#81ff00"/><rect x="784" y="305.88" width="18" height="4.82" fill="#97ff00"/><rect x="784" y="301.37" width="18" height="4.82" fill="#aeff00"/><rect x="784" y="296.85" width="18" height="4.82" fill="#c2ff00"/><rect x="784" y="292.33" width="18" height="4.82" fill="#d3ff00"/><rect x="784" y="287.82" width="18" height="4.82" fill="#e5ff00"/><rect x="784" y="283.30" width="18" height="4.82" fill="#f6ff00"/><rect x="784" y="278.78" width="18" height="4.82" fill="#ffdd00"/><rect x="784" y="274.27" width="18" height="4.82" fill="#ffc900"/><rect x="784" y="269.75" width="18" height="4.82" fill="#ffb400"/><rect x="784" y="265.23" width="18" height="4.82" fill="#ffa000"/><rect x="784" y="260.72" width="18" height="4.82" fill="#ff8a00"/><rect x="784" y="256.20" width="18" height="4.82" fill="#ff7200"/><rect x="784" y="251.68" width="18" height="4.82" fill="#ff5b00"/><rect x="784" y="247.17" width="18" height="4.82" fill="#ff4300"/><rect x="784" y="242.65" width="18" height="4.82" fill="#ff2b00"/><rect x="784" y="238.13" width="18" height="4.82" fill="#ff1200"/><rect x="784" y="233.62" width="18" height="4.82" fill="#ff0e0b"/><rect x="784" y="229.10" width="18" height="4.82" fill="#ff1f22"/><rect x="784" y="224.58" width="18" height="4.82" fill="#ff3136"/><rect x="784" y="220.07" width="18" height="4.82" fill="#ff4247"/><rect x="784" y="215.55" width="18" height="4.82" fill="#ff5459"/><rect x="784" y="211.03" width="18" height="4.82" fill="#ff656a"/><rect x="784" y="206.52" width="18" height="4.82" fill="#ff7a7e"/><rect x="784" y="202.00" width="18" height="4.82" fill="#ff9395"/></g>
<g fill="#000" shape-rendering="crispEdges"><rect x="784" y="210" width="18" height="2"/><rect x="784" y="228" width="18" height="2"/><rect x="784" y="246" width="18" height="2"/><rect x="784" y="264" width="18" height="2"/><rect x="784" y="282" width="18" height="2"/><rect x="784" y="300" width="18" height="2"/><rect x="784" y="319" width="18" height="2"/><rect x="784" y="337" width="18" height="2"/><rect x="784" y="355" width="18" height="2"/><rect x="784" y="373" width="18" height="2"/><rect x="784" y="391" width="18" height="2"/><rect x="784" y="409" width="18" height="2"/><rect x="784" y="427" width="18" height="2"/><rect x="784" y="445" width="18" height="2"/><rect x="784" y="463" width="18" height="2"/></g>
<rect x="784" y="202" width="18" height="271" fill="none" stroke="#000" stroke-width="2"/>
<g id="labels">
<g><text x="353.75" y="113.00" font-size="28.5" letter-spacing="1.750">zonal</text> <text x="444.75" y="113.00" font-size="28.5" letter-spacing="1.286">velocity</text></g>
<g><text transform="translate(375.58,547.00) scale(0.8491,1)" font-size="23">X</text><text transform="translate(388.64,546.20) scale(2.6087,1)" font-size="23">-</text><text x="409.00" y="547.00" font-size="23" letter-spacing="1.400">coordinate</text></g>
<g transform="translate(91.3,391.3) rotate(-90)"><text transform="translate(-0.35,0.00) scale(0.8727,1)" font-size="25">Z</text><text transform="translate(13.06,-1.00) scale(2.3360,1)" font-size="25">-</text><text x="33.40" y="0.00" font-size="25" letter-spacing="0.372">coordinate</text></g>
<g><text transform="translate(304.16,592.70) scale(0.8427,1)" font-size="19">CONTOUR</text> <text transform="translate(393.50,592.70) scale(0.8563,1)" font-size="19">INTERVAL</text> <text transform="translate(479.69,592.70) scale(1.3081,1)" font-size="19">=</text> <text transform="translate(503.48,592.70) scale(1.0139,1)" font-size="19">1.000E+01</text></g>
<g><text transform="translate(46.76,506.60) scale(1.0719,1)" font-size="19">(×1000</text> <text transform="translate(119.18,506.60) scale(1.1392,1)" font-size="19">m)</text></g>
<g><text transform="translate(683.55,517.30) scale(1.0823,1)" font-size="19">(×1000</text> <text transform="translate(757.21,517.30) scale(1.1089,1)" font-size="19">m)</text></g>
<g><text transform="translate(179.75,494.90) scale(1.1459,1)" font-size="18.5">4</text></g>
<g><text transform="translate(230.23,494.90) scale(1.2114,1)" font-size="18.5">8</text></g>
<g><text transform="translate(275.03,494.90) scale(1.1507,1)" font-size="18.5">12</text></g>
<g><text transform="translate(325.84,494.90) scale(1.1507,1)" font-size="18.5">16</text></g>
<g><text transform="translate(377.28,494.90) scale(1.1053,1)" font-size="18.5">20</text></g>
<g><text transform="translate(428.09,494.90) scale(1.1053,1)" font-size="18.5">24</text></g>
<g><text transform="translate(478.89,494.90) scale(1.1200,1)" font-size="18.5">28</text></g>
<g><text transform="translate(530.00,494.90) scale(1.1053,1)" font-size="18.5">32</text></g>
<g><text transform="translate(580.81,494.90) scale(1.1053,1)" font-size="18.5">36</text></g>
<g><text transform="translate(631.91,494.90) scale(1.0769,1)" font-size="18.5">40</text></g>
<g><text transform="translate(682.73,494.90) scale(1.0769,1)" font-size="18.5">44</text></g>
<g><text transform="translate(733.54,494.90) scale(1.0909,1)" font-size="18.5">48</text></g>
<g><text transform="translate(115.61,400.90) scale(1.0595,1)" font-size="19.5">5</text></g>
<g><text transform="translate(104.45,320.90) scale(1.0359,1)" font-size="19.5">10</text></g>
<g><text transform="translate(104.45,240.90) scale(1.0359,1)" font-size="19.5">15</text></g>
<g><text transform="translate(809.29,478.42) scale(2.5412,1)" font-size="17">-</text><text transform="translate(823.59,479.02) scale(1.0750,1)" font-size="17">6</text></g>
<g><text transform="translate(809.29,455.75) scale(2.5412,1)" font-size="17">-</text><text transform="translate(823.59,456.35) scale(1.0750,1)" font-size="17">5</text></g>
<g><text transform="translate(809.29,433.08) scale(2.5412,1)" font-size="17">-</text><text transform="translate(823.89,433.68) scale(1.0118,1)" font-size="17">4</text></g>
<g><text transform="translate(809.29,410.41) scale(2.5412,1)" font-size="17">-</text><text transform="translate(823.59,411.01) scale(1.0750,1)" font-size="17">3</text></g>
<g><text transform="translate(809.29,387.74) scale(2.5412,1)" font-size="17">-</text><text transform="translate(823.57,388.34) scale(1.1097,1)" font-size="17">2</text></g>
<g><text transform="translate(809.29,365.07) scale(2.5412,1)" font-size="17">-</text><text transform="translate(824.53,365.67) scale(0.6933,1)" font-size="17">1</text></g>
<g><text transform="translate(810.38,343.00) scale(1.1000,1)" font-size="17">0</text></g>
<g><text transform="translate(810.93,320.33) scale(0.6933,1)" font-size="17">1</text></g>
<g><text transform="translate(810.35,297.66) scale(1.1355,1)" font-size="17">2</text></g>
<g><text transform="translate(810.38,274.99) scale(1.1000,1)" font-size="17">3</text></g>
<g><text transform="translate(810.68,252.32) scale(1.0353,1)" font-size="17">4</text></g>
<g><text transform="translate(810.38,229.65) scale(1.1000,1)" font-size="17">5</text></g>
<g><text transform="translate(810.38,206.98) scale(1.1000,1)" font-size="17">6</text></g>
</g>
</svg>
</body></html>
